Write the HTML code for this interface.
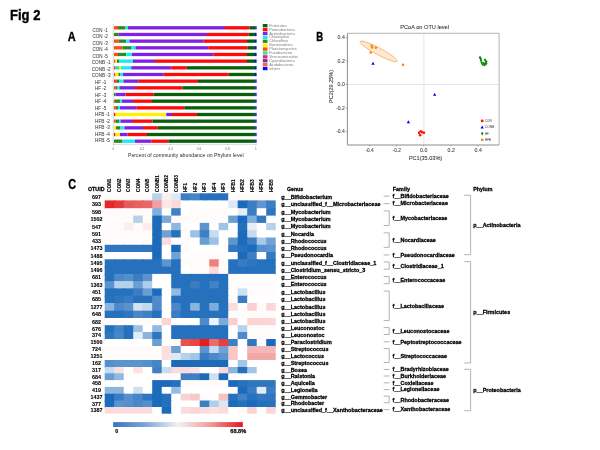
<!DOCTYPE html>
<html><head><meta charset="utf-8"><style>
html,body{margin:0;padding:0;background:#fff;width:600px;height:450px;overflow:hidden}
svg{display:block;font-family:"Liberation Sans", sans-serif}
</style></head><body>
<svg width="600" height="450" viewBox="0 0 600 450" style='font-family:"Liberation Sans", sans-serif;will-change:transform;filter:blur(0.4px)'>
<rect width="600" height="450" fill="#fff"/>
<text x="10.0" y="20.0" font-size="14.2" font-weight="bold" fill="#000" text-anchor="start" textLength="30.4" lengthAdjust="spacingAndGlyphs" stroke="#000" stroke-width="0.35">Fig 2</text>
<text x="67.7" y="41.2" font-size="12.5" font-weight="bold" fill="#000" text-anchor="start" textLength="7.9" lengthAdjust="spacingAndGlyphs" stroke="#000" stroke-width="0.35">A</text>
<text x="316.2" y="41.3" font-size="12.5" font-weight="bold" fill="#000" text-anchor="start" textLength="6.9" lengthAdjust="spacingAndGlyphs" stroke="#000" stroke-width="0.35">B</text>
<text x="68.2" y="188.6" font-size="14" font-weight="bold" fill="#000" text-anchor="start" textLength="7.8" lengthAdjust="spacingAndGlyphs" stroke="#000" stroke-width="0.35">C</text>
<rect x="114.00" y="26.15" width="4.00" height="3.3" fill="#ff4a10"/>
<rect x="118.00" y="26.15" width="7.50" height="3.3" fill="#2f8a1e"/>
<rect x="125.50" y="26.15" width="2.50" height="3.3" fill="#1ee8f2"/>
<rect x="128.00" y="26.15" width="97.00" height="3.3" fill="#7f22e2"/>
<rect x="225.00" y="26.15" width="24.50" height="3.3" fill="#ff0a0a"/>
<rect x="249.50" y="26.15" width="5.70" height="3.3" fill="#0a5f0a"/>
<rect x="255.20" y="26.15" width="1.40" height="3.3" fill="#0a0aff"/>
<text x="92.6" y="31.9" font-size="5.2" font-weight="normal" fill="#3a3a3a" text-anchor="start" textLength="15.1" lengthAdjust="spacingAndGlyphs" stroke="#3a3a3a" stroke-width="0.05">CON -1</text>
<line x1="112.2" y1="27.80" x2="113.3" y2="27.80" stroke="#bbb" stroke-width="0.5"/>
<rect x="114.00" y="32.82" width="4.75" height="3.3" fill="#2f8a1e"/>
<rect x="118.75" y="32.82" width="88.25" height="3.3" fill="#7f22e2"/>
<rect x="207.00" y="32.82" width="41.75" height="3.3" fill="#ff0a0a"/>
<rect x="248.75" y="32.82" width="6.25" height="3.3" fill="#0a5f0a"/>
<rect x="255.00" y="32.82" width="1.60" height="3.3" fill="#0a0aff"/>
<text x="92.6" y="38.4" font-size="5.2" font-weight="normal" fill="#3a3a3a" text-anchor="start" textLength="15.3" lengthAdjust="spacingAndGlyphs" stroke="#3a3a3a" stroke-width="0.05">CON -2</text>
<line x1="112.2" y1="34.47" x2="113.3" y2="34.47" stroke="#bbb" stroke-width="0.5"/>
<rect x="114.00" y="39.49" width="4.75" height="3.3" fill="#ff4a10"/>
<rect x="118.75" y="39.49" width="7.50" height="3.3" fill="#2f8a1e"/>
<rect x="126.25" y="39.49" width="3.25" height="3.3" fill="#1ee8f2"/>
<rect x="129.50" y="39.49" width="74.25" height="3.3" fill="#7f22e2"/>
<rect x="203.75" y="39.49" width="43.25" height="3.3" fill="#ff0a0a"/>
<rect x="247.00" y="39.49" width="8.00" height="3.3" fill="#0a5f0a"/>
<rect x="255.00" y="39.49" width="1.60" height="3.3" fill="#0a0aff"/>
<text x="92.6" y="44.9" font-size="5.2" font-weight="normal" fill="#3a3a3a" text-anchor="start" textLength="15.3" lengthAdjust="spacingAndGlyphs" stroke="#3a3a3a" stroke-width="0.05">CON -3</text>
<line x1="112.2" y1="41.14" x2="113.3" y2="41.14" stroke="#bbb" stroke-width="0.5"/>
<rect x="114.00" y="46.16" width="8.50" height="3.3" fill="#ff4a10"/>
<rect x="122.50" y="46.16" width="8.50" height="3.3" fill="#2f8a1e"/>
<rect x="131.00" y="46.16" width="4.50" height="3.3" fill="#1ee8f2"/>
<rect x="135.50" y="46.16" width="72.75" height="3.3" fill="#7f22e2"/>
<rect x="208.25" y="46.16" width="39.25" height="3.3" fill="#ff0a0a"/>
<rect x="247.50" y="46.16" width="7.50" height="3.3" fill="#0a5f0a"/>
<rect x="255.00" y="46.16" width="1.60" height="3.3" fill="#0a0aff"/>
<text x="92.6" y="51.4" font-size="5.2" font-weight="normal" fill="#3a3a3a" text-anchor="start" textLength="15.3" lengthAdjust="spacingAndGlyphs" stroke="#3a3a3a" stroke-width="0.05">CON -4</text>
<line x1="112.2" y1="47.81" x2="113.3" y2="47.81" stroke="#bbb" stroke-width="0.5"/>
<rect x="114.00" y="52.83" width="4.00" height="3.3" fill="#ff4a10"/>
<rect x="118.00" y="52.83" width="8.25" height="3.3" fill="#2f8a1e"/>
<rect x="126.25" y="52.83" width="5.75" height="3.3" fill="#1ee8f2"/>
<rect x="132.00" y="52.83" width="81.25" height="3.3" fill="#7f22e2"/>
<rect x="213.25" y="52.83" width="33.75" height="3.3" fill="#ff0a0a"/>
<rect x="247.00" y="52.83" width="8.00" height="3.3" fill="#0a5f0a"/>
<rect x="255.00" y="52.83" width="1.60" height="3.3" fill="#0a0aff"/>
<text x="92.6" y="57.9" font-size="5.2" font-weight="normal" fill="#3a3a3a" text-anchor="start" textLength="15.3" lengthAdjust="spacingAndGlyphs" stroke="#3a3a3a" stroke-width="0.05">CON -5</text>
<line x1="112.2" y1="54.48" x2="113.3" y2="54.48" stroke="#bbb" stroke-width="0.5"/>
<rect x="114.00" y="59.50" width="1.50" height="3.3" fill="#ff4a10"/>
<rect x="115.50" y="59.50" width="1.50" height="3.3" fill="#fff200"/>
<rect x="117.00" y="59.50" width="2.00" height="3.3" fill="#2f8a1e"/>
<rect x="119.00" y="59.50" width="14.00" height="3.3" fill="#1ee8f2"/>
<rect x="133.00" y="59.50" width="22.00" height="3.3" fill="#7f22e2"/>
<rect x="155.00" y="59.50" width="92.00" height="3.3" fill="#ff0a0a"/>
<rect x="247.00" y="59.50" width="8.00" height="3.3" fill="#0a5f0a"/>
<rect x="255.00" y="59.50" width="1.60" height="3.3" fill="#0a0aff"/>
<text x="91.7" y="64.4" font-size="5.2" font-weight="normal" fill="#3a3a3a" text-anchor="start" textLength="18.9" lengthAdjust="spacingAndGlyphs" stroke="#3a3a3a" stroke-width="0.05">CONB -1</text>
<line x1="112.2" y1="61.15" x2="113.3" y2="61.15" stroke="#bbb" stroke-width="0.5"/>
<rect x="114.00" y="66.17" width="1.50" height="3.3" fill="#f0208a"/>
<rect x="115.50" y="66.17" width="4.00" height="3.3" fill="#22f08a"/>
<rect x="119.50" y="66.17" width="1.50" height="3.3" fill="#fff200"/>
<rect x="121.00" y="66.17" width="10.25" height="3.3" fill="#1ee8f2"/>
<rect x="131.25" y="66.17" width="40.00" height="3.3" fill="#7f22e2"/>
<rect x="171.25" y="66.17" width="15.50" height="3.3" fill="#ff0a0a"/>
<rect x="186.75" y="66.17" width="68.25" height="3.3" fill="#0a5f0a"/>
<rect x="255.00" y="66.17" width="1.60" height="3.3" fill="#0a0aff"/>
<text x="91.7" y="70.9" font-size="5.2" font-weight="normal" fill="#3a3a3a" text-anchor="start" textLength="18.9" lengthAdjust="spacingAndGlyphs" stroke="#3a3a3a" stroke-width="0.05">CONB -2</text>
<line x1="112.2" y1="67.82" x2="113.3" y2="67.82" stroke="#bbb" stroke-width="0.5"/>
<rect x="114.00" y="72.84" width="1.50" height="3.3" fill="#ff4a10"/>
<rect x="115.50" y="72.84" width="3.00" height="3.3" fill="#fff200"/>
<rect x="118.50" y="72.84" width="2.00" height="3.3" fill="#2f8a1e"/>
<rect x="120.50" y="72.84" width="2.50" height="3.3" fill="#1ee8f2"/>
<rect x="123.00" y="72.84" width="40.75" height="3.3" fill="#7f22e2"/>
<rect x="163.75" y="72.84" width="65.00" height="3.3" fill="#ff0a0a"/>
<rect x="228.75" y="72.84" width="26.25" height="3.3" fill="#0a5f0a"/>
<rect x="255.00" y="72.84" width="1.60" height="3.3" fill="#0a0aff"/>
<text x="91.7" y="77.4" font-size="5.2" font-weight="normal" fill="#3a3a3a" text-anchor="start" textLength="18.9" lengthAdjust="spacingAndGlyphs" stroke="#3a3a3a" stroke-width="0.05">CONB -3</text>
<line x1="112.2" y1="74.49" x2="113.3" y2="74.49" stroke="#bbb" stroke-width="0.5"/>
<rect x="114.00" y="79.51" width="1.00" height="3.3" fill="#f0208a"/>
<rect x="115.00" y="79.51" width="2.00" height="3.3" fill="#ff4a10"/>
<rect x="117.00" y="79.51" width="2.00" height="3.3" fill="#2f8a1e"/>
<rect x="119.00" y="79.51" width="4.50" height="3.3" fill="#1ee8f2"/>
<rect x="123.50" y="79.51" width="15.25" height="3.3" fill="#7f22e2"/>
<rect x="138.75" y="79.51" width="59.25" height="3.3" fill="#ff0a0a"/>
<rect x="198.00" y="79.51" width="57.20" height="3.3" fill="#0a5f0a"/>
<rect x="255.20" y="79.51" width="1.40" height="3.3" fill="#0a0aff"/>
<text x="95.1" y="83.9" font-size="5.2" font-weight="normal" fill="#3a3a3a" text-anchor="start" textLength="11.2" lengthAdjust="spacingAndGlyphs" stroke="#3a3a3a" stroke-width="0.05">HF -1</text>
<line x1="112.2" y1="81.16" x2="113.3" y2="81.16" stroke="#bbb" stroke-width="0.5"/>
<rect x="114.00" y="86.18" width="1.50" height="3.3" fill="#ff4a10"/>
<rect x="115.50" y="86.18" width="2.00" height="3.3" fill="#2f8a1e"/>
<rect x="117.50" y="86.18" width="2.00" height="3.3" fill="#1ee8f2"/>
<rect x="119.50" y="86.18" width="15.50" height="3.3" fill="#7f22e2"/>
<rect x="135.00" y="86.18" width="47.50" height="3.3" fill="#ff0a0a"/>
<rect x="182.50" y="86.18" width="72.70" height="3.3" fill="#0a5f0a"/>
<rect x="255.20" y="86.18" width="1.40" height="3.3" fill="#0a0aff"/>
<text x="95.1" y="90.4" font-size="5.2" font-weight="normal" fill="#3a3a3a" text-anchor="start" textLength="11.2" lengthAdjust="spacingAndGlyphs" stroke="#3a3a3a" stroke-width="0.05">HF -2</text>
<line x1="112.2" y1="87.83" x2="113.3" y2="87.83" stroke="#bbb" stroke-width="0.5"/>
<rect x="114.00" y="92.85" width="1.50" height="3.3" fill="#2f8a1e"/>
<rect x="115.50" y="92.85" width="10.00" height="3.3" fill="#7f22e2"/>
<rect x="125.50" y="92.85" width="28.25" height="3.3" fill="#ff0a0a"/>
<rect x="153.75" y="92.85" width="101.45" height="3.3" fill="#0a5f0a"/>
<rect x="255.20" y="92.85" width="1.40" height="3.3" fill="#0a0aff"/>
<text x="95.1" y="96.9" font-size="5.2" font-weight="normal" fill="#3a3a3a" text-anchor="start" textLength="11.2" lengthAdjust="spacingAndGlyphs" stroke="#3a3a3a" stroke-width="0.05">HF -3</text>
<line x1="112.2" y1="94.50" x2="113.3" y2="94.50" stroke="#bbb" stroke-width="0.5"/>
<rect x="114.00" y="99.52" width="1.00" height="3.3" fill="#ff4a10"/>
<rect x="115.00" y="99.52" width="5.00" height="3.3" fill="#2f8a1e"/>
<rect x="120.00" y="99.52" width="2.00" height="3.3" fill="#1ee8f2"/>
<rect x="122.00" y="99.52" width="11.00" height="3.3" fill="#7f22e2"/>
<rect x="133.00" y="99.52" width="19.00" height="3.3" fill="#ff0a0a"/>
<rect x="152.00" y="99.52" width="103.20" height="3.3" fill="#0a5f0a"/>
<rect x="255.20" y="99.52" width="1.40" height="3.3" fill="#0a0aff"/>
<text x="95.1" y="103.4" font-size="5.2" font-weight="normal" fill="#3a3a3a" text-anchor="start" textLength="11.2" lengthAdjust="spacingAndGlyphs" stroke="#3a3a3a" stroke-width="0.05">HF -4</text>
<line x1="112.2" y1="101.17" x2="113.3" y2="101.17" stroke="#bbb" stroke-width="0.5"/>
<rect x="114.00" y="106.19" width="1.50" height="3.3" fill="#ff4a10"/>
<rect x="115.50" y="106.19" width="2.50" height="3.3" fill="#2f8a1e"/>
<rect x="118.00" y="106.19" width="2.00" height="3.3" fill="#1ee8f2"/>
<rect x="120.00" y="106.19" width="16.25" height="3.3" fill="#7f22e2"/>
<rect x="136.25" y="106.19" width="48.00" height="3.3" fill="#ff0a0a"/>
<rect x="184.25" y="106.19" width="70.95" height="3.3" fill="#0a5f0a"/>
<rect x="255.20" y="106.19" width="1.40" height="3.3" fill="#0a0aff"/>
<text x="95.1" y="109.9" font-size="5.2" font-weight="normal" fill="#3a3a3a" text-anchor="start" textLength="11.2" lengthAdjust="spacingAndGlyphs" stroke="#3a3a3a" stroke-width="0.05">HF -5</text>
<line x1="112.2" y1="107.84" x2="113.3" y2="107.84" stroke="#bbb" stroke-width="0.5"/>
<rect x="114.00" y="112.86" width="1.50" height="3.3" fill="#ff0a0a"/>
<rect x="115.50" y="112.86" width="50.75" height="3.3" fill="#fff200"/>
<rect x="166.25" y="112.86" width="5.75" height="3.3" fill="#7f22e2"/>
<rect x="172.00" y="112.86" width="25.00" height="3.3" fill="#ff0a0a"/>
<rect x="197.00" y="112.86" width="58.20" height="3.3" fill="#0a5f0a"/>
<rect x="255.20" y="112.86" width="1.40" height="3.3" fill="#0a0aff"/>
<text x="95.1" y="116.4" font-size="5.2" font-weight="normal" fill="#3a3a3a" text-anchor="start" textLength="14.8" lengthAdjust="spacingAndGlyphs" stroke="#3a3a3a" stroke-width="0.05">HFB -1</text>
<line x1="112.2" y1="114.51" x2="113.3" y2="114.51" stroke="#bbb" stroke-width="0.5"/>
<rect x="114.00" y="119.53" width="1.50" height="3.3" fill="#ff4a10"/>
<rect x="115.50" y="119.53" width="3.50" height="3.3" fill="#2f8a1e"/>
<rect x="119.00" y="119.53" width="1.50" height="3.3" fill="#1ee8f2"/>
<rect x="120.50" y="119.53" width="11.50" height="3.3" fill="#7f22e2"/>
<rect x="132.00" y="119.53" width="20.50" height="3.3" fill="#ff0a0a"/>
<rect x="152.50" y="119.53" width="102.70" height="3.3" fill="#0a5f0a"/>
<rect x="255.20" y="119.53" width="1.40" height="3.3" fill="#0a0aff"/>
<text x="95.1" y="122.9" font-size="5.2" font-weight="normal" fill="#3a3a3a" text-anchor="start" textLength="14.8" lengthAdjust="spacingAndGlyphs" stroke="#3a3a3a" stroke-width="0.05">HFB -2</text>
<line x1="112.2" y1="121.18" x2="113.3" y2="121.18" stroke="#bbb" stroke-width="0.5"/>
<rect x="114.00" y="126.20" width="2.00" height="3.3" fill="#fff200"/>
<rect x="116.00" y="126.20" width="4.50" height="3.3" fill="#2f8a1e"/>
<rect x="120.50" y="126.20" width="4.00" height="3.3" fill="#1ee8f2"/>
<rect x="124.50" y="126.20" width="18.50" height="3.3" fill="#7f22e2"/>
<rect x="143.00" y="126.20" width="14.50" height="3.3" fill="#ff0a0a"/>
<rect x="157.50" y="126.20" width="97.70" height="3.3" fill="#0a5f0a"/>
<rect x="255.20" y="126.20" width="1.40" height="3.3" fill="#0a0aff"/>
<text x="95.1" y="129.4" font-size="5.2" font-weight="normal" fill="#3a3a3a" text-anchor="start" textLength="14.8" lengthAdjust="spacingAndGlyphs" stroke="#3a3a3a" stroke-width="0.05">HFB -3</text>
<line x1="112.2" y1="127.85" x2="113.3" y2="127.85" stroke="#bbb" stroke-width="0.5"/>
<rect x="114.00" y="132.87" width="1.50" height="3.3" fill="#ff0a0a"/>
<rect x="115.50" y="132.87" width="4.50" height="3.3" fill="#fff200"/>
<rect x="120.00" y="132.87" width="7.50" height="3.3" fill="#7f22e2"/>
<rect x="127.50" y="132.87" width="19.50" height="3.3" fill="#ff0a0a"/>
<rect x="147.00" y="132.87" width="108.20" height="3.3" fill="#0a5f0a"/>
<rect x="255.20" y="132.87" width="1.40" height="3.3" fill="#0a0aff"/>
<text x="95.1" y="135.9" font-size="5.2" font-weight="normal" fill="#3a3a3a" text-anchor="start" textLength="14.8" lengthAdjust="spacingAndGlyphs" stroke="#3a3a3a" stroke-width="0.05">HFB -4</text>
<line x1="112.2" y1="134.52" x2="113.3" y2="134.52" stroke="#bbb" stroke-width="0.5"/>
<rect x="114.00" y="139.54" width="8.00" height="3.3" fill="#2f8a1e"/>
<rect x="122.00" y="139.54" width="13.00" height="3.3" fill="#1ee8f2"/>
<rect x="135.00" y="139.54" width="16.25" height="3.3" fill="#7f22e2"/>
<rect x="151.25" y="139.54" width="17.00" height="3.3" fill="#ff0a0a"/>
<rect x="168.25" y="139.54" width="86.95" height="3.3" fill="#0a5f0a"/>
<rect x="255.20" y="139.54" width="1.40" height="3.3" fill="#0a0aff"/>
<text x="95.1" y="142.4" font-size="5.2" font-weight="normal" fill="#3a3a3a" text-anchor="start" textLength="14.8" lengthAdjust="spacingAndGlyphs" stroke="#3a3a3a" stroke-width="0.05">HFB -5</text>
<line x1="112.2" y1="141.19" x2="113.3" y2="141.19" stroke="#bbb" stroke-width="0.5"/>
<line x1="113.3" y1="23.5" x2="113.3" y2="144.3" stroke="#c8c8c8" stroke-width="0.7"/>
<line x1="113.3" y1="144.3" x2="256.5" y2="144.3" stroke="#c8c8c8" stroke-width="0.7"/>
<line x1="113.5" y1="144.3" x2="113.5" y2="145.5" stroke="#999" stroke-width="0.5"/>
<text x="113.5" y="150" font-size="3.2" font-weight="normal" fill="#666" text-anchor="middle" >0</text>
<line x1="142.0" y1="144.3" x2="142.0" y2="145.5" stroke="#999" stroke-width="0.5"/>
<text x="142.0" y="150" font-size="3.2" font-weight="normal" fill="#666" text-anchor="middle" >0.2</text>
<line x1="170.5" y1="144.3" x2="170.5" y2="145.5" stroke="#999" stroke-width="0.5"/>
<text x="170.5" y="150" font-size="3.2" font-weight="normal" fill="#666" text-anchor="middle" >0.4</text>
<line x1="199.0" y1="144.3" x2="199.0" y2="145.5" stroke="#999" stroke-width="0.5"/>
<text x="199.0" y="150" font-size="3.2" font-weight="normal" fill="#666" text-anchor="middle" >0.6</text>
<line x1="227.5" y1="144.3" x2="227.5" y2="145.5" stroke="#999" stroke-width="0.5"/>
<text x="227.5" y="150" font-size="3.2" font-weight="normal" fill="#666" text-anchor="middle" >0.8</text>
<line x1="256.0" y1="144.3" x2="256.0" y2="145.5" stroke="#999" stroke-width="0.5"/>
<text x="256.0" y="150" font-size="3.2" font-weight="normal" fill="#666" text-anchor="middle" >1</text>
<text x="128" y="157.2" font-size="5.3" font-weight="normal" fill="#2a2a2a" text-anchor="start" textLength="115.6" lengthAdjust="spacingAndGlyphs" >Percent of community abundance on Phylum level</text>
<rect x="262.8" y="24.00" width="4.7" height="3.3" fill="#0a5f0a"/>
<text x="269.2" y="26.75" font-size="3.4" font-weight="normal" fill="#808080" text-anchor="start" textLength="17.7" lengthAdjust="spacingAndGlyphs" >Firmicutes</text>
<rect x="262.8" y="27.90" width="4.7" height="3.3" fill="#ff0a0a"/>
<text x="269.2" y="30.65" font-size="3.4" font-weight="normal" fill="#808080" text-anchor="start" textLength="25.5" lengthAdjust="spacingAndGlyphs" >Proteobacteria</text>
<rect x="262.8" y="31.80" width="4.7" height="3.3" fill="#7f22e2"/>
<text x="269.2" y="34.55" font-size="3.4" font-weight="normal" fill="#808080" text-anchor="start" textLength="25.5" lengthAdjust="spacingAndGlyphs" >Actinobacteria</text>
<rect x="262.8" y="35.70" width="4.7" height="3.3" fill="#1ee8f2"/>
<text x="269.2" y="38.45" font-size="3.4" font-weight="normal" fill="#808080" text-anchor="start" textLength="20.2" lengthAdjust="spacingAndGlyphs" >Chlamydiae</text>
<rect x="262.8" y="39.60" width="4.7" height="3.3" fill="#2f8a1e"/>
<text x="269.2" y="42.35" font-size="3.4" font-weight="normal" fill="#808080" text-anchor="start" textLength="19.0" lengthAdjust="spacingAndGlyphs" >Chloroflexi</text>
<rect x="262.8" y="43.50" width="4.7" height="3.3" fill="#fff200"/>
<text x="269.2" y="46.25" font-size="3.4" font-weight="normal" fill="#808080" text-anchor="start" textLength="23.4" lengthAdjust="spacingAndGlyphs" >Bacteroidetes</text>
<rect x="262.8" y="47.40" width="4.7" height="3.3" fill="#ff4a10"/>
<text x="269.2" y="50.15" font-size="3.4" font-weight="normal" fill="#808080" text-anchor="start" textLength="27.5" lengthAdjust="spacingAndGlyphs" >Planctomycetes</text>
<rect x="262.8" y="51.30" width="4.7" height="3.3" fill="#22f08a"/>
<text x="269.2" y="54.05" font-size="3.4" font-weight="normal" fill="#808080" text-anchor="start" textLength="22.9" lengthAdjust="spacingAndGlyphs" >Fusobacteria</text>
<rect x="262.8" y="55.20" width="4.7" height="3.3" fill="#f0208a"/>
<text x="269.2" y="57.95" font-size="3.4" font-weight="normal" fill="#808080" text-anchor="start" textLength="28.6" lengthAdjust="spacingAndGlyphs" >Verrucomicrobia</text>
<rect x="262.8" y="59.10" width="4.7" height="3.3" fill="#6a3a9a"/>
<text x="269.2" y="61.85" font-size="3.4" font-weight="normal" fill="#808080" text-anchor="start" textLength="25.5" lengthAdjust="spacingAndGlyphs" >Cyanobacteria</text>
<rect x="262.8" y="63.00" width="4.7" height="3.3" fill="#ff6050"/>
<text x="269.2" y="65.75" font-size="3.4" font-weight="normal" fill="#808080" text-anchor="start" textLength="24.0" lengthAdjust="spacingAndGlyphs" >Acidobacteria</text>
<rect x="262.8" y="66.90" width="4.7" height="3.3" fill="#0a0aff"/>
<text x="269.2" y="69.65" font-size="3.4" font-weight="normal" fill="#808080" text-anchor="start" textLength="11.0" lengthAdjust="spacingAndGlyphs" >others</text>
<text x="400.3" y="29.4" font-size="5.6" font-weight="normal" fill="#333" text-anchor="start" textLength="48.7" lengthAdjust="spacingAndGlyphs" stroke="#333" stroke-width="0.08">PCoA on OTU level</text>
<line x1="347.5" y1="84.5" x2="499" y2="84.5" stroke="#e4e4e4" stroke-width="0.9"/>
<line x1="423.9" y1="33.2" x2="423.9" y2="144.8" stroke="#e4e4e4" stroke-width="0.9"/>
<polyline points="347.4,33.3 499.1,33.3 499.1,145.0" fill="none" stroke="#b4b4b4" stroke-width="1"/>
<polyline points="347.4,33.3 347.4,145.0 499.1,145.0" fill="none" stroke="#8c8c8c" stroke-width="1"/>
<line x1="345.8" y1="37.6" x2="347.4" y2="37.6" stroke="#777" stroke-width="0.6"/>
<text x="344.8" y="39.35" font-size="4.8" font-weight="normal" fill="#444" text-anchor="end" textLength="7.2" lengthAdjust="spacingAndGlyphs" stroke="#444" stroke-width="0.08">0.4</text>
<line x1="345.8" y1="60.9" x2="347.4" y2="60.9" stroke="#777" stroke-width="0.6"/>
<text x="344.8" y="62.65" font-size="4.8" font-weight="normal" fill="#444" text-anchor="end" textLength="7.2" lengthAdjust="spacingAndGlyphs" stroke="#444" stroke-width="0.08">0.2</text>
<line x1="345.8" y1="84.5" x2="347.4" y2="84.5" stroke="#777" stroke-width="0.6"/>
<text x="344.8" y="86.25" font-size="4.8" font-weight="normal" fill="#444" text-anchor="end" textLength="7.2" lengthAdjust="spacingAndGlyphs" stroke="#444" stroke-width="0.08">0.0</text>
<line x1="345.8" y1="108.2" x2="347.4" y2="108.2" stroke="#777" stroke-width="0.6"/>
<text x="344.8" y="109.95" font-size="4.8" font-weight="normal" fill="#444" text-anchor="end" textLength="8.6" lengthAdjust="spacingAndGlyphs" stroke="#444" stroke-width="0.08">-0.2</text>
<line x1="345.8" y1="131.6" x2="347.4" y2="131.6" stroke="#777" stroke-width="0.6"/>
<text x="344.8" y="133.35" font-size="4.8" font-weight="normal" fill="#444" text-anchor="end" textLength="8.6" lengthAdjust="spacingAndGlyphs" stroke="#444" stroke-width="0.08">-0.4</text>
<line x1="369.5" y1="145" x2="369.5" y2="146.4" stroke="#777" stroke-width="0.6"/>
<text x="369.5" y="151.8" font-size="4.6" font-weight="normal" fill="#444" text-anchor="middle" textLength="8.2" lengthAdjust="spacingAndGlyphs" stroke="#444" stroke-width="0.08">-0.4</text>
<line x1="396.7" y1="145" x2="396.7" y2="146.4" stroke="#777" stroke-width="0.6"/>
<text x="396.7" y="151.8" font-size="4.6" font-weight="normal" fill="#444" text-anchor="middle" textLength="8.2" lengthAdjust="spacingAndGlyphs" stroke="#444" stroke-width="0.08">-0.2</text>
<line x1="423.7" y1="145" x2="423.7" y2="146.4" stroke="#777" stroke-width="0.6"/>
<text x="423.7" y="151.8" font-size="4.6" font-weight="normal" fill="#444" text-anchor="middle" textLength="7.2" lengthAdjust="spacingAndGlyphs" stroke="#444" stroke-width="0.08">0.0</text>
<line x1="451.2" y1="145" x2="451.2" y2="146.4" stroke="#777" stroke-width="0.6"/>
<text x="451.2" y="151.8" font-size="4.6" font-weight="normal" fill="#444" text-anchor="middle" textLength="7.2" lengthAdjust="spacingAndGlyphs" stroke="#444" stroke-width="0.08">0.2</text>
<line x1="478.2" y1="145" x2="478.2" y2="146.4" stroke="#777" stroke-width="0.6"/>
<text x="478.2" y="151.8" font-size="4.6" font-weight="normal" fill="#444" text-anchor="middle" textLength="7.2" lengthAdjust="spacingAndGlyphs" stroke="#444" stroke-width="0.08">0.4</text>
<text x="408.9" y="160.4" font-size="5.8" font-weight="normal" fill="#333" text-anchor="start" textLength="33.3" lengthAdjust="spacingAndGlyphs" stroke="#333" stroke-width="0.08">PC1(35.03%)</text>
<text x="0" y="0" font-size="5.4" fill="#3c3530" stroke="#3c3530" stroke-width="0.08" textLength="33" lengthAdjust="spacingAndGlyphs" transform="translate(332.6,103) rotate(-90)">PC2(29.25%)</text>
<ellipse cx="378.6" cy="51.4" rx="21" ry="3.4" transform="rotate(27.9 378.6 51.4)" fill="#fde8d2" stroke="#f6a858" stroke-width="0.7"/>
<circle cx="371.7" cy="45.8" r="1.25" fill="#ff7f10"/>
<circle cx="372.2" cy="47.6" r="1.25" fill="#ff7f10"/>
<circle cx="375.8" cy="47.8" r="1.25" fill="#ff7f10"/>
<circle cx="370.8" cy="52.5" r="1.25" fill="#ff7f10"/>
<circle cx="403" cy="64.7" r="1.25" fill="#ff7f10"/>
<polygon points="371.30,64.74 374.70,64.74 373.00,61.85" fill="#0000ff"/>
<polygon points="433.00,95.84 436.40,95.84 434.70,92.96" fill="#0000ff"/>
<polygon points="406.70,123.14 410.10,123.14 408.40,120.26" fill="#0000ff"/>
<circle cx="420.7" cy="131.2" r="1.3" fill="#ff1010"/>
<circle cx="419.1" cy="132.9" r="1.3" fill="#ff1010"/>
<circle cx="424" cy="132.8" r="1.3" fill="#ff1010"/>
<circle cx="420.2" cy="135.2" r="1.3" fill="#ff1010"/>
<circle cx="422.3" cy="132.3" r="1.3" fill="#ff1010"/>
<polygon points="480.00,55.70 481.30,57.40 480.00,59.10 478.70,57.40" fill="#078a07"/>
<polygon points="480.60,56.90 481.90,58.60 480.60,60.30 479.30,58.60" fill="#078a07"/>
<polygon points="481.00,58.60 482.30,60.30 481.00,62.00 479.70,60.30" fill="#078a07"/>
<polygon points="481.70,60.90 483.00,62.60 481.70,64.30 480.40,62.60" fill="#078a07"/>
<polygon points="482.80,62.80 484.10,64.50 482.80,66.20 481.50,64.50" fill="#078a07"/>
<polygon points="484.70,63.20 486.00,64.90 484.70,66.60 483.40,64.90" fill="#078a07"/>
<polygon points="486.20,61.80 487.50,63.50 486.20,65.20 484.90,63.50" fill="#078a07"/>
<polygon points="486.30,59.90 487.60,61.60 486.30,63.30 485.00,61.60" fill="#078a07"/>
<polygon points="485.00,58.30 486.30,60.00 485.00,61.70 483.70,60.00" fill="#078a07"/>
<polygon points="483.60,61.70 484.90,63.40 483.60,65.10 482.30,63.40" fill="#078a07"/>
<polygon points="485.40,61.50 486.70,63.20 485.40,64.90 484.10,63.20" fill="#078a07"/>
<circle cx="482.2" cy="120.9" r="1.45" fill="#ff1010"/>
<polygon points="480.55,128.40 483.85,128.40 482.20,125.60" fill="#0000ff"/>
<polygon points="482.20,131.70 483.40,133.60 482.20,135.50 481.00,133.60" fill="#0a7a0a"/>
<rect x="481.0" y="138.7" width="2.4" height="2.3" fill="#ff8010"/>
<text x="485" y="122.10000000000001" font-size="3.3" font-weight="normal" fill="#555" text-anchor="start" textLength="6.5" lengthAdjust="spacingAndGlyphs" stroke="#555" stroke-width="0.06">CON</text>
<text x="485" y="128.4" font-size="3.3" font-weight="normal" fill="#555" text-anchor="start" textLength="9" lengthAdjust="spacingAndGlyphs" stroke="#555" stroke-width="0.06">CONB</text>
<text x="485" y="134.79999999999998" font-size="3.3" font-weight="normal" fill="#555" text-anchor="start" textLength="3.6" lengthAdjust="spacingAndGlyphs" stroke="#555" stroke-width="0.06">HF</text>
<text x="485" y="141.0" font-size="3.3" font-weight="normal" fill="#555" text-anchor="start" textLength="6" lengthAdjust="spacingAndGlyphs" stroke="#555" stroke-width="0.06">HFB</text>
<rect x="104.70" y="193.30" width="10.70" height="8.30" fill="#fffbfa"/>
<rect x="114.20" y="193.30" width="10.70" height="8.30" fill="#fffbfa"/>
<rect x="123.70" y="193.30" width="10.70" height="8.30" fill="#fffbfa"/>
<rect x="133.20" y="193.30" width="10.70" height="8.30" fill="#fffbfa"/>
<rect x="142.70" y="193.30" width="10.70" height="8.30" fill="#fffbfa"/>
<rect x="152.20" y="193.30" width="10.70" height="8.30" fill="#b5d2ea"/>
<rect x="161.70" y="193.30" width="10.70" height="8.30" fill="#fbeeee"/>
<rect x="171.20" y="193.30" width="10.70" height="8.30" fill="#dde9f4"/>
<rect x="180.70" y="193.30" width="10.70" height="8.30" fill="#3c7ec3"/>
<rect x="190.20" y="193.30" width="10.70" height="8.30" fill="#4586c9"/>
<rect x="199.70" y="193.30" width="10.70" height="8.30" fill="#2671be"/>
<rect x="209.20" y="193.30" width="10.70" height="8.30" fill="#2671be"/>
<rect x="218.70" y="193.30" width="10.70" height="8.30" fill="#2671be"/>
<rect x="228.20" y="193.30" width="10.70" height="8.30" fill="#fffbfa"/>
<rect x="237.70" y="193.30" width="10.70" height="8.30" fill="#fffbfa"/>
<rect x="247.20" y="193.30" width="10.70" height="8.30" fill="#fffbfa"/>
<rect x="256.70" y="193.30" width="10.70" height="8.30" fill="#fffbfa"/>
<rect x="266.20" y="193.30" width="9.50" height="8.30" fill="#fffbfa"/>
<rect x="104.70" y="200.40" width="10.70" height="9.00" fill="#e42828"/>
<rect x="114.20" y="200.40" width="10.70" height="9.00" fill="#e63a3a"/>
<rect x="123.70" y="200.40" width="10.70" height="9.00" fill="#e8595a"/>
<rect x="133.20" y="200.40" width="10.70" height="9.00" fill="#e86060"/>
<rect x="142.70" y="200.40" width="10.70" height="9.00" fill="#e96767"/>
<rect x="152.20" y="200.40" width="10.70" height="9.00" fill="#f0a0a0"/>
<rect x="161.70" y="200.40" width="10.70" height="9.00" fill="#fde6e6"/>
<rect x="171.20" y="200.40" width="10.70" height="9.00" fill="#fcd9d9"/>
<rect x="180.70" y="200.40" width="10.70" height="9.00" fill="#ffffff"/>
<rect x="190.20" y="200.40" width="10.70" height="9.00" fill="#ffffff"/>
<rect x="199.70" y="200.40" width="10.70" height="9.00" fill="#ffffff"/>
<rect x="209.20" y="200.40" width="10.70" height="9.00" fill="#ffffff"/>
<rect x="218.70" y="200.40" width="10.70" height="9.00" fill="#ffffff"/>
<rect x="228.20" y="200.40" width="10.70" height="9.00" fill="#dde9f4"/>
<rect x="237.70" y="200.40" width="10.70" height="9.00" fill="#1c6aba"/>
<rect x="247.20" y="200.40" width="10.70" height="9.00" fill="#3c7ec3"/>
<rect x="256.70" y="200.40" width="10.70" height="9.00" fill="#5f96cf"/>
<rect x="266.20" y="200.40" width="9.50" height="9.00" fill="#3c7ec3"/>
<rect x="104.70" y="208.20" width="10.70" height="8.60" fill="#fffbfa"/>
<rect x="114.20" y="208.20" width="10.70" height="8.60" fill="#fffbfa"/>
<rect x="123.70" y="208.20" width="10.70" height="8.60" fill="#fffbfa"/>
<rect x="133.20" y="208.20" width="10.70" height="8.60" fill="#fffbfa"/>
<rect x="142.70" y="208.20" width="10.70" height="8.60" fill="#fffbfa"/>
<rect x="152.20" y="208.20" width="10.70" height="8.60" fill="#7fb0dd"/>
<rect x="161.70" y="208.20" width="10.70" height="8.60" fill="#ffffff"/>
<rect x="171.20" y="208.20" width="10.70" height="8.60" fill="#3e80c5"/>
<rect x="180.70" y="208.20" width="10.70" height="8.60" fill="#ffffff"/>
<rect x="190.20" y="208.20" width="10.70" height="8.60" fill="#fffbfa"/>
<rect x="199.70" y="208.20" width="10.70" height="8.60" fill="#fffbfa"/>
<rect x="209.20" y="208.20" width="10.70" height="8.60" fill="#fffbfa"/>
<rect x="218.70" y="208.20" width="10.70" height="8.60" fill="#fffbfa"/>
<rect x="228.20" y="208.20" width="10.70" height="8.60" fill="#ffffff"/>
<rect x="237.70" y="208.20" width="10.70" height="8.60" fill="#e4edf6"/>
<rect x="247.20" y="208.20" width="10.70" height="8.60" fill="#3c7ec3"/>
<rect x="256.70" y="208.20" width="10.70" height="8.60" fill="#ffffff"/>
<rect x="266.20" y="208.20" width="9.50" height="8.60" fill="#2e74bf"/>
<rect x="104.70" y="215.60" width="10.70" height="8.50" fill="#fffbfa"/>
<rect x="114.20" y="215.60" width="10.70" height="8.50" fill="#fffbfa"/>
<rect x="123.70" y="215.60" width="10.70" height="8.50" fill="#fffbfa"/>
<rect x="133.20" y="215.60" width="10.70" height="8.50" fill="#b5d2ea"/>
<rect x="142.70" y="215.60" width="10.70" height="8.50" fill="#fffbfa"/>
<rect x="152.20" y="215.60" width="10.70" height="8.50" fill="#1c6aba"/>
<rect x="161.70" y="215.60" width="10.70" height="8.50" fill="#7aa8d8"/>
<rect x="171.20" y="215.60" width="10.70" height="8.50" fill="#fffbfa"/>
<rect x="180.70" y="215.60" width="10.70" height="8.50" fill="#fffbfa"/>
<rect x="190.20" y="215.60" width="10.70" height="8.50" fill="#fffbfa"/>
<rect x="199.70" y="215.60" width="10.70" height="8.50" fill="#fffbfa"/>
<rect x="209.20" y="215.60" width="10.70" height="8.50" fill="#fffbfa"/>
<rect x="218.70" y="215.60" width="10.70" height="8.50" fill="#fffbfa"/>
<rect x="228.20" y="215.60" width="10.70" height="8.50" fill="#6a9fd3"/>
<rect x="237.70" y="215.60" width="10.70" height="8.50" fill="#1c6aba"/>
<rect x="247.20" y="215.60" width="10.70" height="8.50" fill="#80b0dd"/>
<rect x="256.70" y="215.60" width="10.70" height="8.50" fill="#3478c0"/>
<rect x="266.20" y="215.60" width="9.50" height="8.50" fill="#ffffff"/>
<rect x="104.70" y="222.90" width="10.70" height="8.50" fill="#fffbfa"/>
<rect x="114.20" y="222.90" width="10.70" height="8.50" fill="#fffbfa"/>
<rect x="123.70" y="222.90" width="10.70" height="8.50" fill="#fdeeec"/>
<rect x="133.20" y="222.90" width="10.70" height="8.50" fill="#fffbfa"/>
<rect x="142.70" y="222.90" width="10.70" height="8.50" fill="#fdeeec"/>
<rect x="152.20" y="222.90" width="10.70" height="8.50" fill="#1c6aba"/>
<rect x="161.70" y="222.90" width="10.70" height="8.50" fill="#ffffff"/>
<rect x="171.20" y="222.90" width="10.70" height="8.50" fill="#8cb8e0"/>
<rect x="180.70" y="222.90" width="10.70" height="8.50" fill="#ffffff"/>
<rect x="190.20" y="222.90" width="10.70" height="8.50" fill="#ffffff"/>
<rect x="199.70" y="222.90" width="10.70" height="8.50" fill="#5d94cf"/>
<rect x="209.20" y="222.90" width="10.70" height="8.50" fill="#ffffff"/>
<rect x="218.70" y="222.90" width="10.70" height="8.50" fill="#9ec4e6"/>
<rect x="228.20" y="222.90" width="10.70" height="8.50" fill="#ffffff"/>
<rect x="237.70" y="222.90" width="10.70" height="8.50" fill="#2570bc"/>
<rect x="247.20" y="222.90" width="10.70" height="8.50" fill="#e7eef7"/>
<rect x="256.70" y="222.90" width="10.70" height="8.50" fill="#ffffff"/>
<rect x="266.20" y="222.90" width="9.50" height="8.50" fill="#b5d2ea"/>
<rect x="104.70" y="230.20" width="10.70" height="8.50" fill="#fffbfa"/>
<rect x="114.20" y="230.20" width="10.70" height="8.50" fill="#fffbfa"/>
<rect x="123.70" y="230.20" width="10.70" height="8.50" fill="#fffbfa"/>
<rect x="133.20" y="230.20" width="10.70" height="8.50" fill="#fffbfa"/>
<rect x="142.70" y="230.20" width="10.70" height="8.50" fill="#fffbfa"/>
<rect x="152.20" y="230.20" width="10.70" height="8.50" fill="#1c6aba"/>
<rect x="161.70" y="230.20" width="10.70" height="8.50" fill="#6fa1d5"/>
<rect x="171.20" y="230.20" width="10.70" height="8.50" fill="#2571bd"/>
<rect x="180.70" y="230.20" width="10.70" height="8.50" fill="#fffbfa"/>
<rect x="190.20" y="230.20" width="10.70" height="8.50" fill="#9bc1e4"/>
<rect x="199.70" y="230.20" width="10.70" height="8.50" fill="#3f80c5"/>
<rect x="209.20" y="230.20" width="10.70" height="8.50" fill="#c7dcef"/>
<rect x="218.70" y="230.20" width="10.70" height="8.50" fill="#ffffff"/>
<rect x="228.20" y="230.20" width="10.70" height="8.50" fill="#ffffff"/>
<rect x="237.70" y="230.20" width="10.70" height="8.50" fill="#1c6aba"/>
<rect x="247.20" y="230.20" width="10.70" height="8.50" fill="#c6dbef"/>
<rect x="256.70" y="230.20" width="10.70" height="8.50" fill="#ffffff"/>
<rect x="266.20" y="230.20" width="9.50" height="8.50" fill="#ffffff"/>
<rect x="104.70" y="237.50" width="10.70" height="8.50" fill="#fffbfa"/>
<rect x="114.20" y="237.50" width="10.70" height="8.50" fill="#fffbfa"/>
<rect x="123.70" y="237.50" width="10.70" height="8.50" fill="#fffbfa"/>
<rect x="133.20" y="237.50" width="10.70" height="8.50" fill="#fffbfa"/>
<rect x="142.70" y="237.50" width="10.70" height="8.50" fill="#fffbfa"/>
<rect x="152.20" y="237.50" width="10.70" height="8.50" fill="#1c6aba"/>
<rect x="161.70" y="237.50" width="10.70" height="8.50" fill="#fcdcdc"/>
<rect x="171.20" y="237.50" width="10.70" height="8.50" fill="#ffffff"/>
<rect x="180.70" y="237.50" width="10.70" height="8.50" fill="#fffbfa"/>
<rect x="190.20" y="237.50" width="10.70" height="8.50" fill="#ffffff"/>
<rect x="199.70" y="237.50" width="10.70" height="8.50" fill="#6a9fd3"/>
<rect x="209.20" y="237.50" width="10.70" height="8.50" fill="#9dc2e5"/>
<rect x="218.70" y="237.50" width="10.70" height="8.50" fill="#ffffff"/>
<rect x="228.20" y="237.50" width="10.70" height="8.50" fill="#5e96d0"/>
<rect x="237.70" y="237.50" width="10.70" height="8.50" fill="#1c6aba"/>
<rect x="247.20" y="237.50" width="10.70" height="8.50" fill="#3f80c5"/>
<rect x="256.70" y="237.50" width="10.70" height="8.50" fill="#a8cae8"/>
<rect x="266.20" y="237.50" width="9.50" height="8.50" fill="#6ea3d4"/>
<rect x="104.70" y="244.80" width="10.70" height="8.40" fill="#2e76c0"/>
<rect x="114.20" y="244.80" width="10.70" height="8.40" fill="#2e76c0"/>
<rect x="123.70" y="244.80" width="10.70" height="8.40" fill="#2e76c0"/>
<rect x="133.20" y="244.80" width="10.70" height="8.40" fill="#2e76c0"/>
<rect x="142.70" y="244.80" width="10.70" height="8.40" fill="#2e76c0"/>
<rect x="152.20" y="244.80" width="10.70" height="8.40" fill="#1c6aba"/>
<rect x="161.70" y="244.80" width="10.70" height="8.40" fill="#ffffff"/>
<rect x="171.20" y="244.80" width="10.70" height="8.40" fill="#1c6aba"/>
<rect x="180.70" y="244.80" width="10.70" height="8.40" fill="#fffbfa"/>
<rect x="190.20" y="244.80" width="10.70" height="8.40" fill="#ffffff"/>
<rect x="199.70" y="244.80" width="10.70" height="8.40" fill="#ffffff"/>
<rect x="209.20" y="244.80" width="10.70" height="8.40" fill="#ffffff"/>
<rect x="218.70" y="244.80" width="10.70" height="8.40" fill="#ffffff"/>
<rect x="228.20" y="244.80" width="10.70" height="8.40" fill="#3379c1"/>
<rect x="237.70" y="244.80" width="10.70" height="8.40" fill="#2671be"/>
<rect x="247.20" y="244.80" width="10.70" height="8.40" fill="#1c6aba"/>
<rect x="256.70" y="244.80" width="10.70" height="8.40" fill="#5790cd"/>
<rect x="266.20" y="244.80" width="9.50" height="8.40" fill="#5d94cf"/>
<rect x="104.70" y="252.00" width="10.70" height="8.50" fill="#ffffff"/>
<rect x="114.20" y="252.00" width="10.70" height="8.50" fill="#ffffff"/>
<rect x="123.70" y="252.00" width="10.70" height="8.50" fill="#ffffff"/>
<rect x="133.20" y="252.00" width="10.70" height="8.50" fill="#ffffff"/>
<rect x="142.70" y="252.00" width="10.70" height="8.50" fill="#ffffff"/>
<rect x="152.20" y="252.00" width="10.70" height="8.50" fill="#1c6aba"/>
<rect x="161.70" y="252.00" width="10.70" height="8.50" fill="#ffffff"/>
<rect x="171.20" y="252.00" width="10.70" height="8.50" fill="#6da2d4"/>
<rect x="180.70" y="252.00" width="10.70" height="8.50" fill="#ffffff"/>
<rect x="190.20" y="252.00" width="10.70" height="8.50" fill="#fffbfa"/>
<rect x="199.70" y="252.00" width="10.70" height="8.50" fill="#fffbfa"/>
<rect x="209.20" y="252.00" width="10.70" height="8.50" fill="#fffbfa"/>
<rect x="218.70" y="252.00" width="10.70" height="8.50" fill="#fffbfa"/>
<rect x="228.20" y="252.00" width="10.70" height="8.50" fill="#ffffff"/>
<rect x="237.70" y="252.00" width="10.70" height="8.50" fill="#1c6aba"/>
<rect x="247.20" y="252.00" width="10.70" height="8.50" fill="#3d7fc4"/>
<rect x="256.70" y="252.00" width="10.70" height="8.50" fill="#ffffff"/>
<rect x="266.20" y="252.00" width="9.50" height="8.50" fill="#3379c1"/>
<rect x="104.70" y="259.30" width="10.70" height="8.50" fill="#2671be"/>
<rect x="114.20" y="259.30" width="10.70" height="8.50" fill="#2671be"/>
<rect x="123.70" y="259.30" width="10.70" height="8.50" fill="#2671be"/>
<rect x="133.20" y="259.30" width="10.70" height="8.50" fill="#2671be"/>
<rect x="142.70" y="259.30" width="10.70" height="8.50" fill="#2671be"/>
<rect x="152.20" y="259.30" width="10.70" height="8.50" fill="#2671be"/>
<rect x="161.70" y="259.30" width="10.70" height="8.50" fill="#5c94ce"/>
<rect x="171.20" y="259.30" width="10.70" height="8.50" fill="#2671be"/>
<rect x="180.70" y="259.30" width="10.70" height="8.50" fill="#fffbfa"/>
<rect x="190.20" y="259.30" width="10.70" height="8.50" fill="#fffbfa"/>
<rect x="199.70" y="259.30" width="10.70" height="8.50" fill="#fffbfa"/>
<rect x="209.20" y="259.30" width="10.70" height="8.50" fill="#f08080"/>
<rect x="218.70" y="259.30" width="10.70" height="8.50" fill="#fffbfa"/>
<rect x="228.20" y="259.30" width="10.70" height="8.50" fill="#2671be"/>
<rect x="237.70" y="259.30" width="10.70" height="8.50" fill="#3a7cc3"/>
<rect x="247.20" y="259.30" width="10.70" height="8.50" fill="#2f76c0"/>
<rect x="256.70" y="259.30" width="10.70" height="8.50" fill="#2671be"/>
<rect x="266.20" y="259.30" width="9.50" height="8.50" fill="#2671be"/>
<rect x="104.70" y="266.60" width="10.70" height="8.50" fill="#2671be"/>
<rect x="114.20" y="266.60" width="10.70" height="8.50" fill="#2671be"/>
<rect x="123.70" y="266.60" width="10.70" height="8.50" fill="#2671be"/>
<rect x="133.20" y="266.60" width="10.70" height="8.50" fill="#2671be"/>
<rect x="142.70" y="266.60" width="10.70" height="8.50" fill="#2671be"/>
<rect x="152.20" y="266.60" width="10.70" height="8.50" fill="#2671be"/>
<rect x="161.70" y="266.60" width="10.70" height="8.50" fill="#2671be"/>
<rect x="171.20" y="266.60" width="10.70" height="8.50" fill="#2671be"/>
<rect x="180.70" y="266.60" width="10.70" height="8.50" fill="#ffffff"/>
<rect x="190.20" y="266.60" width="10.70" height="8.50" fill="#fffbfa"/>
<rect x="199.70" y="266.60" width="10.70" height="8.50" fill="#fffbfa"/>
<rect x="209.20" y="266.60" width="10.70" height="8.50" fill="#fbd9d9"/>
<rect x="218.70" y="266.60" width="10.70" height="8.50" fill="#fffbfa"/>
<rect x="228.20" y="266.60" width="10.70" height="8.50" fill="#2671be"/>
<rect x="237.70" y="266.60" width="10.70" height="8.50" fill="#2671be"/>
<rect x="247.20" y="266.60" width="10.70" height="8.50" fill="#2671be"/>
<rect x="256.70" y="266.60" width="10.70" height="8.50" fill="#2671be"/>
<rect x="266.20" y="266.60" width="9.50" height="8.50" fill="#2671be"/>
<rect x="104.70" y="273.90" width="10.70" height="8.40" fill="#2671be"/>
<rect x="114.20" y="273.90" width="10.70" height="8.40" fill="#4c89c9"/>
<rect x="123.70" y="273.90" width="10.70" height="8.40" fill="#5590cc"/>
<rect x="133.20" y="273.90" width="10.70" height="8.40" fill="#3b7cc3"/>
<rect x="142.70" y="273.90" width="10.70" height="8.40" fill="#5a93ce"/>
<rect x="152.20" y="273.90" width="10.70" height="8.40" fill="#ffffff"/>
<rect x="161.70" y="273.90" width="10.70" height="8.40" fill="#ffffff"/>
<rect x="171.20" y="273.90" width="10.70" height="8.40" fill="#2671be"/>
<rect x="180.70" y="273.90" width="10.70" height="8.40" fill="#2671be"/>
<rect x="190.20" y="273.90" width="10.70" height="8.40" fill="#2671be"/>
<rect x="199.70" y="273.90" width="10.70" height="8.40" fill="#2671be"/>
<rect x="209.20" y="273.90" width="10.70" height="8.40" fill="#2671be"/>
<rect x="218.70" y="273.90" width="10.70" height="8.40" fill="#2671be"/>
<rect x="228.20" y="273.90" width="10.70" height="8.40" fill="#ffffff"/>
<rect x="237.70" y="273.90" width="10.70" height="8.40" fill="#ffffff"/>
<rect x="247.20" y="273.90" width="10.70" height="8.40" fill="#ffffff"/>
<rect x="256.70" y="273.90" width="10.70" height="8.40" fill="#ffffff"/>
<rect x="266.20" y="273.90" width="9.50" height="8.40" fill="#ffffff"/>
<rect x="104.70" y="281.10" width="10.70" height="8.50" fill="#5a93ce"/>
<rect x="114.20" y="281.10" width="10.70" height="8.50" fill="#b7d3ec"/>
<rect x="123.70" y="281.10" width="10.70" height="8.50" fill="#b4d1ec"/>
<rect x="133.20" y="281.10" width="10.70" height="8.50" fill="#6a9fd3"/>
<rect x="142.70" y="281.10" width="10.70" height="8.50" fill="#aecdea"/>
<rect x="152.20" y="281.10" width="10.70" height="8.50" fill="#ffffff"/>
<rect x="161.70" y="281.10" width="10.70" height="8.50" fill="#ffffff"/>
<rect x="171.20" y="281.10" width="10.70" height="8.50" fill="#2671be"/>
<rect x="180.70" y="281.10" width="10.70" height="8.50" fill="#2671be"/>
<rect x="190.20" y="281.10" width="10.70" height="8.50" fill="#3b7dc3"/>
<rect x="199.70" y="281.10" width="10.70" height="8.50" fill="#2671be"/>
<rect x="209.20" y="281.10" width="10.70" height="8.50" fill="#4283c6"/>
<rect x="218.70" y="281.10" width="10.70" height="8.50" fill="#2671be"/>
<rect x="228.20" y="281.10" width="10.70" height="8.50" fill="#fffbfa"/>
<rect x="237.70" y="281.10" width="10.70" height="8.50" fill="#fffbfa"/>
<rect x="247.20" y="281.10" width="10.70" height="8.50" fill="#fffbfa"/>
<rect x="256.70" y="281.10" width="10.70" height="8.50" fill="#fffbfa"/>
<rect x="266.20" y="281.10" width="9.50" height="8.50" fill="#fffbfa"/>
<rect x="104.70" y="288.40" width="10.70" height="8.50" fill="#2671be"/>
<rect x="114.20" y="288.40" width="10.70" height="8.50" fill="#2671be"/>
<rect x="123.70" y="288.40" width="10.70" height="8.50" fill="#2671be"/>
<rect x="133.20" y="288.40" width="10.70" height="8.50" fill="#3b7dc3"/>
<rect x="142.70" y="288.40" width="10.70" height="8.50" fill="#6a9fd3"/>
<rect x="152.20" y="288.40" width="10.70" height="8.50" fill="#1c6aba"/>
<rect x="161.70" y="288.40" width="10.70" height="8.50" fill="#ffffff"/>
<rect x="171.20" y="288.40" width="10.70" height="8.50" fill="#92bbe1"/>
<rect x="180.70" y="288.40" width="10.70" height="8.50" fill="#2671be"/>
<rect x="190.20" y="288.40" width="10.70" height="8.50" fill="#2671be"/>
<rect x="199.70" y="288.40" width="10.70" height="8.50" fill="#2671be"/>
<rect x="209.20" y="288.40" width="10.70" height="8.50" fill="#2671be"/>
<rect x="218.70" y="288.40" width="10.70" height="8.50" fill="#2671be"/>
<rect x="228.20" y="288.40" width="10.70" height="8.50" fill="#ffffff"/>
<rect x="237.70" y="288.40" width="10.70" height="8.50" fill="#cde0f1"/>
<rect x="247.20" y="288.40" width="10.70" height="8.50" fill="#fffbfa"/>
<rect x="256.70" y="288.40" width="10.70" height="8.50" fill="#fffbfa"/>
<rect x="266.20" y="288.40" width="9.50" height="8.50" fill="#fffbfa"/>
<rect x="104.70" y="295.70" width="10.70" height="8.50" fill="#2671be"/>
<rect x="114.20" y="295.70" width="10.70" height="8.50" fill="#2f76c0"/>
<rect x="123.70" y="295.70" width="10.70" height="8.50" fill="#3a7cc3"/>
<rect x="133.20" y="295.70" width="10.70" height="8.50" fill="#2671be"/>
<rect x="142.70" y="295.70" width="10.70" height="8.50" fill="#2671be"/>
<rect x="152.20" y="295.70" width="10.70" height="8.50" fill="#4f8bca"/>
<rect x="161.70" y="295.70" width="10.70" height="8.50" fill="#ffffff"/>
<rect x="171.20" y="295.70" width="10.70" height="8.50" fill="#2671be"/>
<rect x="180.70" y="295.70" width="10.70" height="8.50" fill="#2671be"/>
<rect x="190.20" y="295.70" width="10.70" height="8.50" fill="#2671be"/>
<rect x="199.70" y="295.70" width="10.70" height="8.50" fill="#2671be"/>
<rect x="209.20" y="295.70" width="10.70" height="8.50" fill="#2671be"/>
<rect x="218.70" y="295.70" width="10.70" height="8.50" fill="#2671be"/>
<rect x="228.20" y="295.70" width="10.70" height="8.50" fill="#fffbfa"/>
<rect x="237.70" y="295.70" width="10.70" height="8.50" fill="#3c7ec3"/>
<rect x="247.20" y="295.70" width="10.70" height="8.50" fill="#ffffff"/>
<rect x="256.70" y="295.70" width="10.70" height="8.50" fill="#ffffff"/>
<rect x="266.20" y="295.70" width="9.50" height="8.50" fill="#ffffff"/>
<rect x="104.70" y="303.00" width="10.70" height="8.90" fill="#8ab5de"/>
<rect x="114.20" y="303.00" width="10.70" height="8.90" fill="#4c89c9"/>
<rect x="123.70" y="303.00" width="10.70" height="8.90" fill="#5a93ce"/>
<rect x="133.20" y="303.00" width="10.70" height="8.90" fill="#d1e2f1"/>
<rect x="142.70" y="303.00" width="10.70" height="8.90" fill="#c2d9ee"/>
<rect x="152.20" y="303.00" width="10.70" height="8.90" fill="#4c89c9"/>
<rect x="161.70" y="303.00" width="10.70" height="8.90" fill="#fffbfa"/>
<rect x="171.20" y="303.00" width="10.70" height="8.90" fill="#4a87c8"/>
<rect x="180.70" y="303.00" width="10.70" height="8.90" fill="#2671be"/>
<rect x="190.20" y="303.00" width="10.70" height="8.90" fill="#8ab5de"/>
<rect x="199.70" y="303.00" width="10.70" height="8.90" fill="#2671be"/>
<rect x="209.20" y="303.00" width="10.70" height="8.90" fill="#7eaddb"/>
<rect x="218.70" y="303.00" width="10.70" height="8.90" fill="#2671be"/>
<rect x="228.20" y="303.00" width="10.70" height="8.90" fill="#fbdddd"/>
<rect x="237.70" y="303.00" width="10.70" height="8.90" fill="#ffffff"/>
<rect x="247.20" y="303.00" width="10.70" height="8.90" fill="#f9cfcf"/>
<rect x="256.70" y="303.00" width="10.70" height="8.90" fill="#fffbfa"/>
<rect x="266.20" y="303.00" width="9.50" height="8.90" fill="#fad6d6"/>
<rect x="104.70" y="310.70" width="10.70" height="8.50" fill="#2671be"/>
<rect x="114.20" y="310.70" width="10.70" height="8.50" fill="#2671be"/>
<rect x="123.70" y="310.70" width="10.70" height="8.50" fill="#2f76c0"/>
<rect x="133.20" y="310.70" width="10.70" height="8.50" fill="#4a87c8"/>
<rect x="142.70" y="310.70" width="10.70" height="8.50" fill="#3f80c5"/>
<rect x="152.20" y="310.70" width="10.70" height="8.50" fill="#2671be"/>
<rect x="161.70" y="310.70" width="10.70" height="8.50" fill="#ffffff"/>
<rect x="171.20" y="310.70" width="10.70" height="8.50" fill="#3b7dc3"/>
<rect x="180.70" y="310.70" width="10.70" height="8.50" fill="#2671be"/>
<rect x="190.20" y="310.70" width="10.70" height="8.50" fill="#2671be"/>
<rect x="199.70" y="310.70" width="10.70" height="8.50" fill="#2671be"/>
<rect x="209.20" y="310.70" width="10.70" height="8.50" fill="#2671be"/>
<rect x="218.70" y="310.70" width="10.70" height="8.50" fill="#2671be"/>
<rect x="228.20" y="310.70" width="10.70" height="8.50" fill="#fffbfa"/>
<rect x="237.70" y="310.70" width="10.70" height="8.50" fill="#fffbfa"/>
<rect x="247.20" y="310.70" width="10.70" height="8.50" fill="#fffbfa"/>
<rect x="256.70" y="310.70" width="10.70" height="8.50" fill="#fffbfa"/>
<rect x="266.20" y="310.70" width="9.50" height="8.50" fill="#fffbfa"/>
<rect x="104.70" y="318.00" width="10.70" height="8.40" fill="#fffbfa"/>
<rect x="114.20" y="318.00" width="10.70" height="8.40" fill="#fffbfa"/>
<rect x="123.70" y="318.00" width="10.70" height="8.40" fill="#fffbfa"/>
<rect x="133.20" y="318.00" width="10.70" height="8.40" fill="#fffbfa"/>
<rect x="142.70" y="318.00" width="10.70" height="8.40" fill="#fffbfa"/>
<rect x="152.20" y="318.00" width="10.70" height="8.40" fill="#fffbfa"/>
<rect x="161.70" y="318.00" width="10.70" height="8.40" fill="#fbd5d5"/>
<rect x="171.20" y="318.00" width="10.70" height="8.40" fill="#ffffff"/>
<rect x="180.70" y="318.00" width="10.70" height="8.40" fill="#ffffff"/>
<rect x="190.20" y="318.00" width="10.70" height="8.40" fill="#ffffff"/>
<rect x="199.70" y="318.00" width="10.70" height="8.40" fill="#4f8bca"/>
<rect x="209.20" y="318.00" width="10.70" height="8.40" fill="#eef3fa"/>
<rect x="218.70" y="318.00" width="10.70" height="8.40" fill="#7aaad9"/>
<rect x="228.20" y="318.00" width="10.70" height="8.40" fill="#f9d0d0"/>
<rect x="237.70" y="318.00" width="10.70" height="8.40" fill="#ffffff"/>
<rect x="247.20" y="318.00" width="10.70" height="8.40" fill="#fad3d3"/>
<rect x="256.70" y="318.00" width="10.70" height="8.40" fill="#fad3d3"/>
<rect x="266.20" y="318.00" width="9.50" height="8.40" fill="#fad6d6"/>
<rect x="104.70" y="325.20" width="10.70" height="8.00" fill="#2671be"/>
<rect x="114.20" y="325.20" width="10.70" height="8.00" fill="#4283c6"/>
<rect x="123.70" y="325.20" width="10.70" height="8.00" fill="#2671be"/>
<rect x="133.20" y="325.20" width="10.70" height="8.00" fill="#9dc2e5"/>
<rect x="142.70" y="325.20" width="10.70" height="8.00" fill="#ffffff"/>
<rect x="152.20" y="325.20" width="10.70" height="8.00" fill="#8fb9e0"/>
<rect x="161.70" y="325.20" width="10.70" height="8.00" fill="#ffffff"/>
<rect x="171.20" y="325.20" width="10.70" height="8.00" fill="#2671be"/>
<rect x="180.70" y="325.20" width="10.70" height="8.00" fill="#2671be"/>
<rect x="190.20" y="325.20" width="10.70" height="8.00" fill="#2671be"/>
<rect x="199.70" y="325.20" width="10.70" height="8.00" fill="#2671be"/>
<rect x="209.20" y="325.20" width="10.70" height="8.00" fill="#2671be"/>
<rect x="218.70" y="325.20" width="10.70" height="8.00" fill="#2671be"/>
<rect x="228.20" y="325.20" width="10.70" height="8.00" fill="#ffffff"/>
<rect x="237.70" y="325.20" width="10.70" height="8.00" fill="#b6d3eb"/>
<rect x="247.20" y="325.20" width="10.70" height="8.00" fill="#fffbfa"/>
<rect x="256.70" y="325.20" width="10.70" height="8.00" fill="#fffbfa"/>
<rect x="266.20" y="325.20" width="9.50" height="8.00" fill="#fffbfa"/>
<rect x="104.70" y="332.00" width="10.70" height="8.20" fill="#2f76c0"/>
<rect x="114.20" y="332.00" width="10.70" height="8.20" fill="#4586c9"/>
<rect x="123.70" y="332.00" width="10.70" height="8.20" fill="#2671be"/>
<rect x="133.20" y="332.00" width="10.70" height="8.20" fill="#e1ecf6"/>
<rect x="142.70" y="332.00" width="10.70" height="8.20" fill="#8ab5de"/>
<rect x="152.20" y="332.00" width="10.70" height="8.20" fill="#2f76c0"/>
<rect x="161.70" y="332.00" width="10.70" height="8.20" fill="#ffffff"/>
<rect x="171.20" y="332.00" width="10.70" height="8.20" fill="#2671be"/>
<rect x="180.70" y="332.00" width="10.70" height="8.20" fill="#2671be"/>
<rect x="190.20" y="332.00" width="10.70" height="8.20" fill="#2671be"/>
<rect x="199.70" y="332.00" width="10.70" height="8.20" fill="#2671be"/>
<rect x="209.20" y="332.00" width="10.70" height="8.20" fill="#2671be"/>
<rect x="218.70" y="332.00" width="10.70" height="8.20" fill="#2671be"/>
<rect x="228.20" y="332.00" width="10.70" height="8.20" fill="#ffffff"/>
<rect x="237.70" y="332.00" width="10.70" height="8.20" fill="#4f8bca"/>
<rect x="247.20" y="332.00" width="10.70" height="8.20" fill="#fffbfa"/>
<rect x="256.70" y="332.00" width="10.70" height="8.20" fill="#fffbfa"/>
<rect x="266.20" y="332.00" width="9.50" height="8.20" fill="#fffbfa"/>
<rect x="104.70" y="339.00" width="10.70" height="8.20" fill="#ffffff"/>
<rect x="114.20" y="339.00" width="10.70" height="8.20" fill="#ffffff"/>
<rect x="123.70" y="339.00" width="10.70" height="8.20" fill="#ffffff"/>
<rect x="133.20" y="339.00" width="10.70" height="8.20" fill="#ffffff"/>
<rect x="142.70" y="339.00" width="10.70" height="8.20" fill="#ffffff"/>
<rect x="152.20" y="339.00" width="10.70" height="8.20" fill="#6a9fd3"/>
<rect x="161.70" y="339.00" width="10.70" height="8.20" fill="#ffffff"/>
<rect x="171.20" y="339.00" width="10.70" height="8.20" fill="#fffbfa"/>
<rect x="180.70" y="339.00" width="10.70" height="8.20" fill="#e85050"/>
<rect x="190.20" y="339.00" width="10.70" height="8.20" fill="#ea4545"/>
<rect x="199.70" y="339.00" width="10.70" height="8.20" fill="#e81c1c"/>
<rect x="209.20" y="339.00" width="10.70" height="8.20" fill="#ec6b6b"/>
<rect x="218.70" y="339.00" width="10.70" height="8.20" fill="#e84040"/>
<rect x="228.20" y="339.00" width="10.70" height="8.20" fill="#3f80c5"/>
<rect x="237.70" y="339.00" width="10.70" height="8.20" fill="#ffffff"/>
<rect x="247.20" y="339.00" width="10.70" height="8.20" fill="#3277c0"/>
<rect x="256.70" y="339.00" width="10.70" height="8.20" fill="#ffffff"/>
<rect x="266.20" y="339.00" width="9.50" height="8.20" fill="#1c6aba"/>
<rect x="104.70" y="346.00" width="10.70" height="8.20" fill="#fffbfa"/>
<rect x="114.20" y="346.00" width="10.70" height="8.20" fill="#fffbfa"/>
<rect x="123.70" y="346.00" width="10.70" height="8.20" fill="#fffbfa"/>
<rect x="133.20" y="346.00" width="10.70" height="8.20" fill="#fffbfa"/>
<rect x="142.70" y="346.00" width="10.70" height="8.20" fill="#fffbfa"/>
<rect x="152.20" y="346.00" width="10.70" height="8.20" fill="#fffbfa"/>
<rect x="161.70" y="346.00" width="10.70" height="8.20" fill="#fcdede"/>
<rect x="171.20" y="346.00" width="10.70" height="8.20" fill="#6a9fd3"/>
<rect x="180.70" y="346.00" width="10.70" height="8.20" fill="#ffffff"/>
<rect x="190.20" y="346.00" width="10.70" height="8.20" fill="#ffffff"/>
<rect x="199.70" y="346.00" width="10.70" height="8.20" fill="#5c94ce"/>
<rect x="209.20" y="346.00" width="10.70" height="8.20" fill="#c6dbef"/>
<rect x="218.70" y="346.00" width="10.70" height="8.20" fill="#6ea2d4"/>
<rect x="228.20" y="346.00" width="10.70" height="8.20" fill="#f7c6c6"/>
<rect x="237.70" y="346.00" width="10.70" height="8.20" fill="#ffffff"/>
<rect x="247.20" y="346.00" width="10.70" height="8.20" fill="#f5b8b8"/>
<rect x="256.70" y="346.00" width="10.70" height="8.20" fill="#f5b8b8"/>
<rect x="266.20" y="346.00" width="9.50" height="8.20" fill="#f5b8b8"/>
<rect x="104.70" y="353.00" width="10.70" height="8.20" fill="#fffbfa"/>
<rect x="114.20" y="353.00" width="10.70" height="8.20" fill="#fffbfa"/>
<rect x="123.70" y="353.00" width="10.70" height="8.20" fill="#fffbfa"/>
<rect x="133.20" y="353.00" width="10.70" height="8.20" fill="#fffbfa"/>
<rect x="142.70" y="353.00" width="10.70" height="8.20" fill="#fffbfa"/>
<rect x="152.20" y="353.00" width="10.70" height="8.20" fill="#fffbfa"/>
<rect x="161.70" y="353.00" width="10.70" height="8.20" fill="#fce0e0"/>
<rect x="171.20" y="353.00" width="10.70" height="8.20" fill="#dde9f4"/>
<rect x="180.70" y="353.00" width="10.70" height="8.20" fill="#b5d2eb"/>
<rect x="190.20" y="353.00" width="10.70" height="8.20" fill="#a3c6e6"/>
<rect x="199.70" y="353.00" width="10.70" height="8.20" fill="#3a7cc3"/>
<rect x="209.20" y="353.00" width="10.70" height="8.20" fill="#4c89c9"/>
<rect x="218.70" y="353.00" width="10.70" height="8.20" fill="#5a93ce"/>
<rect x="228.20" y="353.00" width="10.70" height="8.20" fill="#f7c8c8"/>
<rect x="237.70" y="353.00" width="10.70" height="8.20" fill="#ffffff"/>
<rect x="247.20" y="353.00" width="10.70" height="8.20" fill="#f3a8a8"/>
<rect x="256.70" y="353.00" width="10.70" height="8.20" fill="#f3a8a8"/>
<rect x="266.20" y="353.00" width="9.50" height="8.20" fill="#f3a8a8"/>
<rect x="104.70" y="360.00" width="10.70" height="8.20" fill="#5590cc"/>
<rect x="114.20" y="360.00" width="10.70" height="8.20" fill="#5a93ce"/>
<rect x="123.70" y="360.00" width="10.70" height="8.20" fill="#5a93ce"/>
<rect x="133.20" y="360.00" width="10.70" height="8.20" fill="#5a93ce"/>
<rect x="142.70" y="360.00" width="10.70" height="8.20" fill="#5590cc"/>
<rect x="152.20" y="360.00" width="10.70" height="8.20" fill="#4586c9"/>
<rect x="161.70" y="360.00" width="10.70" height="8.20" fill="#ffffff"/>
<rect x="171.20" y="360.00" width="10.70" height="8.20" fill="#1c6aba"/>
<rect x="180.70" y="360.00" width="10.70" height="8.20" fill="#1c6aba"/>
<rect x="190.20" y="360.00" width="10.70" height="8.20" fill="#1c6aba"/>
<rect x="199.70" y="360.00" width="10.70" height="8.20" fill="#1c6aba"/>
<rect x="209.20" y="360.00" width="10.70" height="8.20" fill="#1c6aba"/>
<rect x="218.70" y="360.00" width="10.70" height="8.20" fill="#1c6aba"/>
<rect x="228.20" y="360.00" width="10.70" height="8.20" fill="#ffffff"/>
<rect x="237.70" y="360.00" width="10.70" height="8.20" fill="#a3c6e6"/>
<rect x="247.20" y="360.00" width="10.70" height="8.20" fill="#ffffff"/>
<rect x="256.70" y="360.00" width="10.70" height="8.20" fill="#ffffff"/>
<rect x="266.20" y="360.00" width="9.50" height="8.20" fill="#ffffff"/>
<rect x="104.70" y="367.00" width="10.70" height="7.50" fill="#c6dbef"/>
<rect x="114.20" y="367.00" width="10.70" height="7.50" fill="#fbe0e0"/>
<rect x="123.70" y="367.00" width="10.70" height="7.50" fill="#ffffff"/>
<rect x="133.20" y="367.00" width="10.70" height="7.50" fill="#fce3e3"/>
<rect x="142.70" y="367.00" width="10.70" height="7.50" fill="#ffffff"/>
<rect x="152.20" y="367.00" width="10.70" height="7.50" fill="#3f80c5"/>
<rect x="161.70" y="367.00" width="10.70" height="7.50" fill="#c8dcef"/>
<rect x="171.20" y="367.00" width="10.70" height="7.50" fill="#fbdcdc"/>
<rect x="180.70" y="367.00" width="10.70" height="7.50" fill="#fbdcdc"/>
<rect x="190.20" y="367.00" width="10.70" height="7.50" fill="#fbe3e3"/>
<rect x="199.70" y="367.00" width="10.70" height="7.50" fill="#ffffff"/>
<rect x="209.20" y="367.00" width="10.70" height="7.50" fill="#ffffff"/>
<rect x="218.70" y="367.00" width="10.70" height="7.50" fill="#fbd9d9"/>
<rect x="228.20" y="367.00" width="10.70" height="7.50" fill="#8ab5de"/>
<rect x="237.70" y="367.00" width="10.70" height="7.50" fill="#2671be"/>
<rect x="247.20" y="367.00" width="10.70" height="7.50" fill="#a3c6e6"/>
<rect x="256.70" y="367.00" width="10.70" height="7.50" fill="#ffffff"/>
<rect x="266.20" y="367.00" width="9.50" height="7.50" fill="#ffffff"/>
<rect x="104.70" y="373.30" width="10.70" height="8.00" fill="#6a9fd3"/>
<rect x="114.20" y="373.30" width="10.70" height="8.00" fill="#8fb9e0"/>
<rect x="123.70" y="373.30" width="10.70" height="8.00" fill="#ffffff"/>
<rect x="133.20" y="373.30" width="10.70" height="8.00" fill="#ffffff"/>
<rect x="142.70" y="373.30" width="10.70" height="8.00" fill="#ffffff"/>
<rect x="152.20" y="373.30" width="10.70" height="8.00" fill="#fffbfa"/>
<rect x="161.70" y="373.30" width="10.70" height="8.00" fill="#fffbfa"/>
<rect x="171.20" y="373.30" width="10.70" height="8.00" fill="#fffbfa"/>
<rect x="180.70" y="373.30" width="10.70" height="8.00" fill="#3f80c5"/>
<rect x="190.20" y="373.30" width="10.70" height="8.00" fill="#3f80c5"/>
<rect x="199.70" y="373.30" width="10.70" height="8.00" fill="#1c6aba"/>
<rect x="209.20" y="373.30" width="10.70" height="8.00" fill="#cfe1f1"/>
<rect x="218.70" y="373.30" width="10.70" height="8.00" fill="#1c6aba"/>
<rect x="228.20" y="373.30" width="10.70" height="8.00" fill="#ffffff"/>
<rect x="237.70" y="373.30" width="10.70" height="8.00" fill="#ffffff"/>
<rect x="247.20" y="373.30" width="10.70" height="8.00" fill="#ffffff"/>
<rect x="256.70" y="373.30" width="10.70" height="8.00" fill="#ffffff"/>
<rect x="266.20" y="373.30" width="9.50" height="8.00" fill="#ffffff"/>
<rect x="104.70" y="380.10" width="10.70" height="8.00" fill="#ffffff"/>
<rect x="114.20" y="380.10" width="10.70" height="8.00" fill="#ffffff"/>
<rect x="123.70" y="380.10" width="10.70" height="8.00" fill="#ffffff"/>
<rect x="133.20" y="380.10" width="10.70" height="8.00" fill="#ffffff"/>
<rect x="142.70" y="380.10" width="10.70" height="8.00" fill="#ffffff"/>
<rect x="152.20" y="380.10" width="10.70" height="8.00" fill="#1c6aba"/>
<rect x="161.70" y="380.10" width="10.70" height="8.00" fill="#1c6aba"/>
<rect x="171.20" y="380.10" width="10.70" height="8.00" fill="#2671be"/>
<rect x="180.70" y="380.10" width="10.70" height="8.00" fill="#fffbfa"/>
<rect x="190.20" y="380.10" width="10.70" height="8.00" fill="#fffbfa"/>
<rect x="199.70" y="380.10" width="10.70" height="8.00" fill="#fffbfa"/>
<rect x="209.20" y="380.10" width="10.70" height="8.00" fill="#fffbfa"/>
<rect x="218.70" y="380.10" width="10.70" height="8.00" fill="#fffbfa"/>
<rect x="228.20" y="380.10" width="10.70" height="8.00" fill="#1c6aba"/>
<rect x="237.70" y="380.10" width="10.70" height="8.00" fill="#2671be"/>
<rect x="247.20" y="380.10" width="10.70" height="8.00" fill="#2f76c0"/>
<rect x="256.70" y="380.10" width="10.70" height="8.00" fill="#2f76c0"/>
<rect x="266.20" y="380.10" width="9.50" height="8.00" fill="#2f76c0"/>
<rect x="104.70" y="386.90" width="10.70" height="8.00" fill="#8ab5de"/>
<rect x="114.20" y="386.90" width="10.70" height="8.00" fill="#8ab5de"/>
<rect x="123.70" y="386.90" width="10.70" height="8.00" fill="#ffffff"/>
<rect x="133.20" y="386.90" width="10.70" height="8.00" fill="#cfe1f1"/>
<rect x="142.70" y="386.90" width="10.70" height="8.00" fill="#ffffff"/>
<rect x="152.20" y="386.90" width="10.70" height="8.00" fill="#1c6aba"/>
<rect x="161.70" y="386.90" width="10.70" height="8.00" fill="#ffffff"/>
<rect x="171.20" y="386.90" width="10.70" height="8.00" fill="#95bde2"/>
<rect x="180.70" y="386.90" width="10.70" height="8.00" fill="#ffffff"/>
<rect x="190.20" y="386.90" width="10.70" height="8.00" fill="#ffffff"/>
<rect x="199.70" y="386.90" width="10.70" height="8.00" fill="#ffffff"/>
<rect x="209.20" y="386.90" width="10.70" height="8.00" fill="#ffffff"/>
<rect x="218.70" y="386.90" width="10.70" height="8.00" fill="#ffffff"/>
<rect x="228.20" y="386.90" width="10.70" height="8.00" fill="#ffffff"/>
<rect x="237.70" y="386.90" width="10.70" height="8.00" fill="#1c6aba"/>
<rect x="247.20" y="386.90" width="10.70" height="8.00" fill="#3b7dc3"/>
<rect x="256.70" y="386.90" width="10.70" height="8.00" fill="#e1ecf6"/>
<rect x="266.20" y="386.90" width="9.50" height="8.00" fill="#3b7dc3"/>
<rect x="104.70" y="393.70" width="10.70" height="8.00" fill="#1c6aba"/>
<rect x="114.20" y="393.70" width="10.70" height="8.00" fill="#3b7dc3"/>
<rect x="123.70" y="393.70" width="10.70" height="8.00" fill="#5590cc"/>
<rect x="133.20" y="393.70" width="10.70" height="8.00" fill="#4586c9"/>
<rect x="142.70" y="393.70" width="10.70" height="8.00" fill="#2f76c0"/>
<rect x="152.20" y="393.70" width="10.70" height="8.00" fill="#1c6aba"/>
<rect x="161.70" y="393.70" width="10.70" height="8.00" fill="#2671be"/>
<rect x="171.20" y="393.70" width="10.70" height="8.00" fill="#ffffff"/>
<rect x="180.70" y="393.70" width="10.70" height="8.00" fill="#f9d3d3"/>
<rect x="190.20" y="393.70" width="10.70" height="8.00" fill="#f7c8c8"/>
<rect x="199.70" y="393.70" width="10.70" height="8.00" fill="#fffbfa"/>
<rect x="209.20" y="393.70" width="10.70" height="8.00" fill="#ffffff"/>
<rect x="218.70" y="393.70" width="10.70" height="8.00" fill="#f7c1c1"/>
<rect x="228.20" y="393.70" width="10.70" height="8.00" fill="#2671be"/>
<rect x="237.70" y="393.70" width="10.70" height="8.00" fill="#4283c6"/>
<rect x="247.20" y="393.70" width="10.70" height="8.00" fill="#2671be"/>
<rect x="256.70" y="393.70" width="10.70" height="8.00" fill="#3379c1"/>
<rect x="266.20" y="393.70" width="9.50" height="8.00" fill="#2f76c0"/>
<rect x="104.70" y="400.50" width="10.70" height="7.70" fill="#1c6aba"/>
<rect x="114.20" y="400.50" width="10.70" height="7.70" fill="#5a93ce"/>
<rect x="123.70" y="400.50" width="10.70" height="7.70" fill="#5590cc"/>
<rect x="133.20" y="400.50" width="10.70" height="7.70" fill="#4a87c8"/>
<rect x="142.70" y="400.50" width="10.70" height="7.70" fill="#5590cc"/>
<rect x="152.20" y="400.50" width="10.70" height="7.70" fill="#1c6aba"/>
<rect x="161.70" y="400.50" width="10.70" height="7.70" fill="#2671be"/>
<rect x="171.20" y="400.50" width="10.70" height="7.70" fill="#ffffff"/>
<rect x="180.70" y="400.50" width="10.70" height="7.70" fill="#ffffff"/>
<rect x="190.20" y="400.50" width="10.70" height="7.70" fill="#ffffff"/>
<rect x="199.70" y="400.50" width="10.70" height="7.70" fill="#3c7ec3"/>
<rect x="209.20" y="400.50" width="10.70" height="7.70" fill="#b0cfea"/>
<rect x="218.70" y="400.50" width="10.70" height="7.70" fill="#dbe8f4"/>
<rect x="228.20" y="400.50" width="10.70" height="7.70" fill="#1c6aba"/>
<rect x="237.70" y="400.50" width="10.70" height="7.70" fill="#2671be"/>
<rect x="247.20" y="400.50" width="10.70" height="7.70" fill="#1c6aba"/>
<rect x="256.70" y="400.50" width="10.70" height="7.70" fill="#2671be"/>
<rect x="266.20" y="400.50" width="9.50" height="7.70" fill="#2671be"/>
<rect x="104.70" y="407.00" width="10.70" height="6.70" fill="#fbdcdc"/>
<rect x="114.20" y="407.00" width="10.70" height="6.70" fill="#fbdcdc"/>
<rect x="123.70" y="407.00" width="10.70" height="6.70" fill="#fbdcdc"/>
<rect x="133.20" y="407.00" width="10.70" height="6.70" fill="#fbdcdc"/>
<rect x="142.70" y="407.00" width="10.70" height="6.70" fill="#fbdcdc"/>
<rect x="152.20" y="407.00" width="10.70" height="6.70" fill="#ffffff"/>
<rect x="161.70" y="407.00" width="10.70" height="6.70" fill="#1c6aba"/>
<rect x="171.20" y="407.00" width="10.70" height="6.70" fill="#ffffff"/>
<rect x="180.70" y="407.00" width="10.70" height="6.70" fill="#fbdcdc"/>
<rect x="190.20" y="407.00" width="10.70" height="6.70" fill="#fad6d6"/>
<rect x="199.70" y="407.00" width="10.70" height="6.70" fill="#fbdcdc"/>
<rect x="209.20" y="407.00" width="10.70" height="6.70" fill="#fce3e3"/>
<rect x="218.70" y="407.00" width="10.70" height="6.70" fill="#fbdcdc"/>
<rect x="228.20" y="407.00" width="10.70" height="6.70" fill="#ffffff"/>
<rect x="237.70" y="407.00" width="10.70" height="6.70" fill="#fffbfa"/>
<rect x="247.20" y="407.00" width="10.70" height="6.70" fill="#fad3d3"/>
<rect x="256.70" y="407.00" width="10.70" height="6.70" fill="#ffffff"/>
<rect x="266.20" y="407.00" width="9.50" height="6.70" fill="#fad6d6"/>
<text x="96.5" y="198.8" font-size="5.4" font-weight="bold" fill="#000" text-anchor="middle" stroke="#000" stroke-width="0.1">697</text>
<text x="96.5" y="206.25" font-size="5.4" font-weight="bold" fill="#000" text-anchor="middle" stroke="#000" stroke-width="0.1">393</text>
<text x="96.5" y="213.84999999999997" font-size="5.4" font-weight="bold" fill="#000" text-anchor="middle" stroke="#000" stroke-width="0.1">598</text>
<text x="96.5" y="221.2" font-size="5.4" font-weight="bold" fill="#000" text-anchor="middle" stroke="#000" stroke-width="0.1">1502</text>
<text x="96.5" y="228.5" font-size="5.4" font-weight="bold" fill="#000" text-anchor="middle" stroke="#000" stroke-width="0.1">547</text>
<text x="96.5" y="235.79999999999998" font-size="5.4" font-weight="bold" fill="#000" text-anchor="middle" stroke="#000" stroke-width="0.1">591</text>
<text x="96.5" y="243.1" font-size="5.4" font-weight="bold" fill="#000" text-anchor="middle" stroke="#000" stroke-width="0.1">433</text>
<text x="96.5" y="250.35" font-size="5.4" font-weight="bold" fill="#000" text-anchor="middle" stroke="#000" stroke-width="0.1">1473</text>
<text x="96.5" y="257.6" font-size="5.4" font-weight="bold" fill="#000" text-anchor="middle" stroke="#000" stroke-width="0.1">1488</text>
<text x="96.5" y="264.90000000000003" font-size="5.4" font-weight="bold" fill="#000" text-anchor="middle" stroke="#000" stroke-width="0.1">1495</text>
<text x="96.5" y="272.2" font-size="5.4" font-weight="bold" fill="#000" text-anchor="middle" stroke="#000" stroke-width="0.1">1496</text>
<text x="96.5" y="279.45" font-size="5.4" font-weight="bold" fill="#000" text-anchor="middle" stroke="#000" stroke-width="0.1">681</text>
<text x="96.5" y="286.7" font-size="5.4" font-weight="bold" fill="#000" text-anchor="middle" stroke="#000" stroke-width="0.1">1363</text>
<text x="96.5" y="293.99999999999994" font-size="5.4" font-weight="bold" fill="#000" text-anchor="middle" stroke="#000" stroke-width="0.1">451</text>
<text x="96.5" y="301.3" font-size="5.4" font-weight="bold" fill="#000" text-anchor="middle" stroke="#000" stroke-width="0.1">685</text>
<text x="96.5" y="308.8" font-size="5.4" font-weight="bold" fill="#000" text-anchor="middle" stroke="#000" stroke-width="0.1">1277</text>
<text x="96.5" y="316.3" font-size="5.4" font-weight="bold" fill="#000" text-anchor="middle" stroke="#000" stroke-width="0.1">648</text>
<text x="96.5" y="323.55" font-size="5.4" font-weight="bold" fill="#000" text-anchor="middle" stroke="#000" stroke-width="0.1">682</text>
<text x="96.5" y="330.55" font-size="5.4" font-weight="bold" fill="#000" text-anchor="middle" stroke="#000" stroke-width="0.1">676</text>
<text x="96.5" y="337.45" font-size="5.4" font-weight="bold" fill="#000" text-anchor="middle" stroke="#000" stroke-width="0.1">374</text>
<text x="96.5" y="344.45" font-size="5.4" font-weight="bold" fill="#000" text-anchor="middle" stroke="#000" stroke-width="0.1">1500</text>
<text x="96.5" y="351.45" font-size="5.4" font-weight="bold" fill="#000" text-anchor="middle" stroke="#000" stroke-width="0.1">724</text>
<text x="96.5" y="358.45" font-size="5.4" font-weight="bold" fill="#000" text-anchor="middle" stroke="#000" stroke-width="0.1">1251</text>
<text x="96.5" y="365.45" font-size="5.4" font-weight="bold" fill="#000" text-anchor="middle" stroke="#000" stroke-width="0.1">162</text>
<text x="96.5" y="372.09999999999997" font-size="5.4" font-weight="bold" fill="#000" text-anchor="middle" stroke="#000" stroke-width="0.1">317</text>
<text x="96.5" y="378.65000000000003" font-size="5.4" font-weight="bold" fill="#000" text-anchor="middle" stroke="#000" stroke-width="0.1">684</text>
<text x="96.5" y="385.45" font-size="5.4" font-weight="bold" fill="#000" text-anchor="middle" stroke="#000" stroke-width="0.1">458</text>
<text x="96.5" y="392.24999999999994" font-size="5.4" font-weight="bold" fill="#000" text-anchor="middle" stroke="#000" stroke-width="0.1">419</text>
<text x="96.5" y="399.05" font-size="5.4" font-weight="bold" fill="#000" text-anchor="middle" stroke="#000" stroke-width="0.1">1437</text>
<text x="96.5" y="405.7" font-size="5.4" font-weight="bold" fill="#000" text-anchor="middle" stroke="#000" stroke-width="0.1">377</text>
<text x="96.5" y="412.3" font-size="5.4" font-weight="bold" fill="#000" text-anchor="middle" stroke="#000" stroke-width="0.1">1387</text>
<text x="88" y="191.4" font-size="5.3" font-weight="bold" fill="#000" text-anchor="start" stroke="#000" stroke-width="0.26">OTUID</text>
<text x="0" y="0" font-size="4.8" font-weight="bold" fill="#000" stroke="#000" stroke-width="0.12" transform="translate(111.05,191.9) rotate(-90)">CON1</text>
<text x="0" y="0" font-size="4.8" font-weight="bold" fill="#000" stroke="#000" stroke-width="0.12" transform="translate(120.55,191.9) rotate(-90)">CON2</text>
<text x="0" y="0" font-size="4.8" font-weight="bold" fill="#000" stroke="#000" stroke-width="0.12" transform="translate(130.05,191.9) rotate(-90)">CON3</text>
<text x="0" y="0" font-size="4.8" font-weight="bold" fill="#000" stroke="#000" stroke-width="0.12" transform="translate(139.55,191.9) rotate(-90)">CON4</text>
<text x="0" y="0" font-size="4.8" font-weight="bold" fill="#000" stroke="#000" stroke-width="0.12" transform="translate(149.05,191.9) rotate(-90)">CON5</text>
<text x="0" y="0" font-size="4.8" font-weight="bold" fill="#000" stroke="#000" stroke-width="0.12" transform="translate(158.55,191.9) rotate(-90)">CONB1</text>
<text x="0" y="0" font-size="4.8" font-weight="bold" fill="#000" stroke="#000" stroke-width="0.12" transform="translate(168.05,191.9) rotate(-90)">CONB2</text>
<text x="0" y="0" font-size="4.8" font-weight="bold" fill="#000" stroke="#000" stroke-width="0.12" transform="translate(177.55,191.9) rotate(-90)">CONB3</text>
<text x="0" y="0" font-size="4.8" font-weight="bold" fill="#000" stroke="#000" stroke-width="0.12" transform="translate(187.05,191.9) rotate(-90)">HF1</text>
<text x="0" y="0" font-size="4.8" font-weight="bold" fill="#000" stroke="#000" stroke-width="0.12" transform="translate(196.55,191.9) rotate(-90)">HF2</text>
<text x="0" y="0" font-size="4.8" font-weight="bold" fill="#000" stroke="#000" stroke-width="0.12" transform="translate(206.05,191.9) rotate(-90)">HF3</text>
<text x="0" y="0" font-size="4.8" font-weight="bold" fill="#000" stroke="#000" stroke-width="0.12" transform="translate(215.55,191.9) rotate(-90)">HF4</text>
<text x="0" y="0" font-size="4.8" font-weight="bold" fill="#000" stroke="#000" stroke-width="0.12" transform="translate(225.05,191.9) rotate(-90)">HF5</text>
<text x="0" y="0" font-size="4.8" font-weight="bold" fill="#000" stroke="#000" stroke-width="0.12" transform="translate(234.55,191.9) rotate(-90)">HFB1</text>
<text x="0" y="0" font-size="4.8" font-weight="bold" fill="#000" stroke="#000" stroke-width="0.12" transform="translate(244.05,191.9) rotate(-90)">HFB2</text>
<text x="0" y="0" font-size="4.8" font-weight="bold" fill="#000" stroke="#000" stroke-width="0.12" transform="translate(253.55,191.9) rotate(-90)">HFB3</text>
<text x="0" y="0" font-size="4.8" font-weight="bold" fill="#000" stroke="#000" stroke-width="0.12" transform="translate(263.05,191.9) rotate(-90)">HFB4</text>
<text x="0" y="0" font-size="4.8" font-weight="bold" fill="#000" stroke="#000" stroke-width="0.12" transform="translate(272.55,191.9) rotate(-90)">HFB5</text>
<text x="281.3" y="198.55" font-size="5.45" font-weight="bold" fill="#000" text-anchor="start" stroke="#000" stroke-width="0.26">g__Bifidobacterium</text>
<text x="281.3" y="206.0" font-size="5.45" font-weight="bold" fill="#000" text-anchor="start" stroke="#000" stroke-width="0.26">g__unclassified_f__Microbacteriaceae</text>
<text x="281.3" y="213.59999999999997" font-size="5.45" font-weight="bold" fill="#000" text-anchor="start" stroke="#000" stroke-width="0.26">g__Mycobacterium</text>
<text x="281.3" y="220.95" font-size="5.45" font-weight="bold" fill="#000" text-anchor="start" stroke="#000" stroke-width="0.26">g__Mycobacterium</text>
<text x="281.3" y="228.25" font-size="5.45" font-weight="bold" fill="#000" text-anchor="start" stroke="#000" stroke-width="0.26">g__Mycobacterium</text>
<text x="281.3" y="235.54999999999998" font-size="5.45" font-weight="bold" fill="#000" text-anchor="start" stroke="#000" stroke-width="0.26">g__Nocardia</text>
<text x="281.3" y="242.85" font-size="5.45" font-weight="bold" fill="#000" text-anchor="start" stroke="#000" stroke-width="0.26">g__Rhodococcus</text>
<text x="281.3" y="250.1" font-size="5.45" font-weight="bold" fill="#000" text-anchor="start" stroke="#000" stroke-width="0.26">g__Rhodococcus</text>
<text x="281.3" y="257.35" font-size="5.45" font-weight="bold" fill="#000" text-anchor="start" stroke="#000" stroke-width="0.26">g__Pseudonocardia</text>
<text x="281.3" y="264.65000000000003" font-size="5.45" font-weight="bold" fill="#000" text-anchor="start" stroke="#000" stroke-width="0.26">g__unclassified_f__Clostridiaceae_1</text>
<text x="281.3" y="271.95" font-size="5.45" font-weight="bold" fill="#000" text-anchor="start" stroke="#000" stroke-width="0.26">g__Clostridium_sensu_stricto_3</text>
<text x="281.3" y="279.2" font-size="5.45" font-weight="bold" fill="#000" text-anchor="start" stroke="#000" stroke-width="0.26">g__Enterococcus</text>
<text x="281.3" y="286.45" font-size="5.45" font-weight="bold" fill="#000" text-anchor="start" stroke="#000" stroke-width="0.26">g__Enterococcus</text>
<text x="281.3" y="293.74999999999994" font-size="5.45" font-weight="bold" fill="#000" text-anchor="start" stroke="#000" stroke-width="0.26">g__Lactobacillus</text>
<text x="281.3" y="301.05" font-size="5.45" font-weight="bold" fill="#000" text-anchor="start" stroke="#000" stroke-width="0.26">g__Lactobacillus</text>
<text x="281.3" y="308.55" font-size="5.45" font-weight="bold" fill="#000" text-anchor="start" stroke="#000" stroke-width="0.26">g__Lactobacillus</text>
<text x="281.3" y="316.05" font-size="5.45" font-weight="bold" fill="#000" text-anchor="start" stroke="#000" stroke-width="0.26">g__Lactobacillus</text>
<text x="281.3" y="323.3" font-size="5.45" font-weight="bold" fill="#000" text-anchor="start" stroke="#000" stroke-width="0.26">g__Lactobacillus</text>
<text x="281.3" y="330.3" font-size="5.45" font-weight="bold" fill="#000" text-anchor="start" stroke="#000" stroke-width="0.26">g__Leuconostoc</text>
<text x="281.3" y="337.2" font-size="5.45" font-weight="bold" fill="#000" text-anchor="start" stroke="#000" stroke-width="0.26">g__Leuconostoc</text>
<text x="281.3" y="344.2" font-size="5.45" font-weight="bold" fill="#000" text-anchor="start" stroke="#000" stroke-width="0.26">g__Paraclostridium</text>
<text x="281.3" y="351.2" font-size="5.45" font-weight="bold" fill="#000" text-anchor="start" stroke="#000" stroke-width="0.26">g__Streptococcus</text>
<text x="281.3" y="358.2" font-size="5.45" font-weight="bold" fill="#000" text-anchor="start" stroke="#000" stroke-width="0.26">g__Lactococcus</text>
<text x="281.3" y="365.2" font-size="5.45" font-weight="bold" fill="#000" text-anchor="start" stroke="#000" stroke-width="0.26">g__Streptococcus</text>
<text x="281.3" y="371.84999999999997" font-size="5.45" font-weight="bold" fill="#000" text-anchor="start" stroke="#000" stroke-width="0.26">g__Bosea</text>
<text x="281.3" y="378.40000000000003" font-size="5.45" font-weight="bold" fill="#000" text-anchor="start" stroke="#000" stroke-width="0.26">g__Ralstonia</text>
<text x="281.3" y="385.2" font-size="5.45" font-weight="bold" fill="#000" text-anchor="start" stroke="#000" stroke-width="0.26">g__Aquicella</text>
<text x="281.3" y="391.99999999999994" font-size="5.45" font-weight="bold" fill="#000" text-anchor="start" stroke="#000" stroke-width="0.26">g__Legionella</text>
<text x="281.3" y="398.8" font-size="5.45" font-weight="bold" fill="#000" text-anchor="start" stroke="#000" stroke-width="0.26">g__Gemmobacter</text>
<text x="281.3" y="405.45" font-size="5.45" font-weight="bold" fill="#000" text-anchor="start" stroke="#000" stroke-width="0.26">g__Rhodobacter</text>
<text x="281.3" y="412.05" font-size="5.45" font-weight="bold" fill="#000" text-anchor="start" stroke="#000" stroke-width="0.26">g__unclassified_f__Xanthobacteraceae</text>
<text x="287" y="190.9" font-size="5.2" font-weight="bold" fill="#000" text-anchor="start" stroke="#000" stroke-width="0.26">Genus</text>
<text x="392.8" y="190.9" font-size="5.4" font-weight="bold" fill="#000" text-anchor="start" stroke="#000" stroke-width="0.26">Family</text>
<text x="473.3" y="190.9" font-size="5.3" font-weight="bold" fill="#000" text-anchor="start" stroke="#000" stroke-width="0.26">Phylum</text>
<line x1="383.7" y1="196.15" x2="389.5" y2="196.15" stroke="#a0a0a0" stroke-width="0.8"/>
<text x="392.6" y="197.95000000000002" font-size="5.45" font-weight="bold" fill="#000" text-anchor="start" stroke="#000" stroke-width="0.26">f__Bifidobacteriaceae</text>
<line x1="383.7" y1="203.60" x2="389.5" y2="203.60" stroke="#a0a0a0" stroke-width="0.8"/>
<text x="392.6" y="205.4" font-size="5.45" font-weight="bold" fill="#000" text-anchor="start" stroke="#000" stroke-width="0.26">f__Microbacteriaceae</text>
<polyline points="383.7,210.90 389.2,210.90 389.2,225.55 383.7,225.55" fill="none" stroke="#a0a0a0" stroke-width="0.8"/>
<text x="392.6" y="220.325" font-size="5.45" font-weight="bold" fill="#000" text-anchor="start" stroke="#000" stroke-width="0.26">f__Mycobacteriaceae</text>
<polyline points="383.7,232.85 389.2,232.85 389.2,247.40 383.7,247.40" fill="none" stroke="#a0a0a0" stroke-width="0.8"/>
<text x="392.6" y="242.225" font-size="5.45" font-weight="bold" fill="#000" text-anchor="start" stroke="#000" stroke-width="0.26">f__Nocardiaceae</text>
<line x1="383.7" y1="254.95" x2="389.5" y2="254.95" stroke="#a0a0a0" stroke-width="0.8"/>
<text x="392.6" y="256.75" font-size="5.45" font-weight="bold" fill="#000" text-anchor="start" stroke="#000" stroke-width="0.26">f__Pseudonocardiaceae</text>
<polyline points="383.7,261.95 389.2,261.95 389.2,269.25 383.7,269.25" fill="none" stroke="#a0a0a0" stroke-width="0.8"/>
<text x="392.6" y="267.70000000000005" font-size="5.45" font-weight="bold" fill="#000" text-anchor="start" stroke="#000" stroke-width="0.26">f__Clostridiaceae_1</text>
<polyline points="383.7,276.50 389.2,276.50 389.2,283.75 383.7,283.75" fill="none" stroke="#a0a0a0" stroke-width="0.8"/>
<text x="392.6" y="282.225" font-size="5.45" font-weight="bold" fill="#000" text-anchor="start" stroke="#000" stroke-width="0.26">f__Enterococcaceae</text>
<polyline points="383.7,291.05 389.2,291.05 389.2,320.60 383.7,320.60" fill="none" stroke="#a0a0a0" stroke-width="0.8"/>
<text x="392.6" y="307.925" font-size="5.45" font-weight="bold" fill="#000" text-anchor="start" stroke="#000" stroke-width="0.26">f__Lactobacillaceae</text>
<polyline points="383.7,327.60 389.2,327.60 389.2,334.50 383.7,334.50" fill="none" stroke="#a0a0a0" stroke-width="0.8"/>
<text x="392.6" y="333.15000000000003" font-size="5.45" font-weight="bold" fill="#000" text-anchor="start" stroke="#000" stroke-width="0.26">f__Leuconostocaceae</text>
<line x1="383.7" y1="341.80" x2="389.5" y2="341.80" stroke="#a0a0a0" stroke-width="0.8"/>
<text x="392.6" y="343.6" font-size="5.45" font-weight="bold" fill="#000" text-anchor="start" stroke="#000" stroke-width="0.26">f__Peptostreptococcaceae</text>
<polyline points="383.7,348.50 389.2,348.50 389.2,362.50 383.7,362.50" fill="none" stroke="#a0a0a0" stroke-width="0.8"/>
<text x="392.6" y="357.6" font-size="5.45" font-weight="bold" fill="#000" text-anchor="start" stroke="#000" stroke-width="0.26">f__Streptococcaceae</text>
<line x1="383.7" y1="369.45" x2="389.5" y2="369.45" stroke="#a0a0a0" stroke-width="0.8"/>
<text x="392.6" y="371.25" font-size="5.45" font-weight="bold" fill="#000" text-anchor="start" stroke="#000" stroke-width="0.26">f__Bradyrhizobiaceae</text>
<line x1="383.7" y1="376.00" x2="389.5" y2="376.00" stroke="#a0a0a0" stroke-width="0.8"/>
<text x="392.6" y="377.80000000000007" font-size="5.45" font-weight="bold" fill="#000" text-anchor="start" stroke="#000" stroke-width="0.26">f__Burkholderiaceae</text>
<line x1="383.7" y1="382.80" x2="389.5" y2="382.80" stroke="#a0a0a0" stroke-width="0.8"/>
<text x="392.6" y="384.6" font-size="5.45" font-weight="bold" fill="#000" text-anchor="start" stroke="#000" stroke-width="0.26">f__Coxiellaceae</text>
<line x1="383.7" y1="389.60" x2="389.5" y2="389.60" stroke="#a0a0a0" stroke-width="0.8"/>
<text x="392.6" y="391.4" font-size="5.45" font-weight="bold" fill="#000" text-anchor="start" stroke="#000" stroke-width="0.26">f__Legionellaceae</text>
<polyline points="383.7,396.10 389.2,396.10 389.2,402.75 383.7,402.75" fill="none" stroke="#a0a0a0" stroke-width="0.8"/>
<text x="392.6" y="401.52500000000003" font-size="5.45" font-weight="bold" fill="#000" text-anchor="start" stroke="#000" stroke-width="0.26">f__Rhodobacteraceae</text>
<line x1="383.7" y1="409.65" x2="389.5" y2="409.65" stroke="#a0a0a0" stroke-width="0.8"/>
<text x="392.6" y="411.45000000000005" font-size="5.45" font-weight="bold" fill="#000" text-anchor="start" stroke="#000" stroke-width="0.26">f__Xanthobacteraceae</text>
<polyline points="464.2,195.3 470.6,195.3 470.6,254.7 464.2,254.7" fill="none" stroke="#a0a0a0" stroke-width="0.8"/>
<text x="473.3" y="226.6" font-size="5.45" font-weight="bold" fill="#000" text-anchor="start" stroke="#000" stroke-width="0.26">p__Actinobacteria</text>
<polyline points="464.2,261.6 470.6,261.6 470.6,363 464.2,363" fill="none" stroke="#a0a0a0" stroke-width="0.8"/>
<text x="473.3" y="313.90000000000003" font-size="5.45" font-weight="bold" fill="#000" text-anchor="start" stroke="#000" stroke-width="0.26">p__Firmicutes</text>
<polyline points="464.2,369.3 470.6,369.3 470.6,410.7 464.2,410.7" fill="none" stroke="#a0a0a0" stroke-width="0.8"/>
<text x="473.3" y="391.6" font-size="5.45" font-weight="bold" fill="#000" text-anchor="start" stroke="#000" stroke-width="0.26">p__Proteobacteria</text>
<defs><linearGradient id="cb" x1="0" x2="1" y1="0" y2="0"><stop offset="0" stop-color="#3a72c0"/><stop offset="0.25" stop-color="#7ea6d8"/><stop offset="0.5" stop-color="#f2f2f2"/><stop offset="0.75" stop-color="#f09a9a"/><stop offset="1" stop-color="#e8141c"/></linearGradient></defs>
<rect x="113.2" y="422.1" width="129.6" height="4.9" fill="url(#cb)"/>
<text x="116.6" y="432.9" font-size="5.2" font-weight="bold" fill="#111" text-anchor="middle" stroke="#111" stroke-width="0.25">0</text>
<text x="230.3" y="432.9" font-size="5.4" font-weight="bold" fill="#111" text-anchor="start" textLength="15.8" lengthAdjust="spacingAndGlyphs" stroke="#111" stroke-width="0.25">68.8%</text>
</svg>
</body></html>
